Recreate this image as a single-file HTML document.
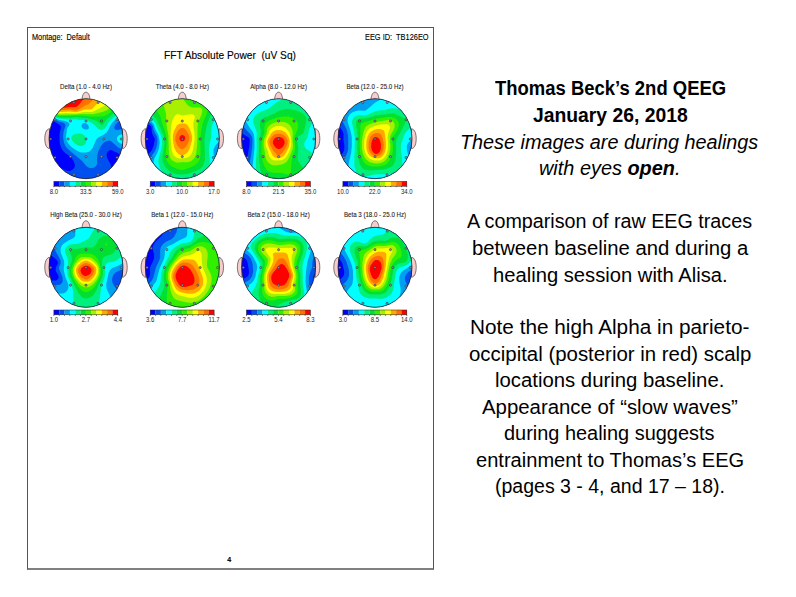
<!DOCTYPE html>
<html><head><meta charset="utf-8"><style>
html,body{margin:0;padding:0;background:#fff;width:796px;height:597px;overflow:hidden}
body{position:relative;font-family:"Liberation Sans",sans-serif;color:#000}
.t{position:absolute;white-space:pre;transform-origin:0 0}
#doc{position:absolute;left:27px;top:27px;width:405px;height:540px;border-left:1px solid #555;border-top:1px solid #555;border-right:1px solid #555;border-bottom:2px solid #808080}
.h{position:absolute;white-space:pre;transform-origin:0 0;color:#000;-webkit-text-stroke:0.12px #000}
svg{position:absolute;left:0;top:0}
svg text{font-family:"Liberation Sans",sans-serif}
</style></head><body>
<div id="doc"></div>
<div class="h" style="left:32.0px;top:33.39px;font-size:8.6px;line-height:8.6px;transform:scaleX(0.8512)">Montage:&nbsp; Default</div>
<div class="h" style="left:365.0px;top:33.39px;font-size:8.6px;line-height:8.6px;transform:scaleX(0.8604)">EEG ID:&nbsp; TB126EO</div>
<div class="h" style="left:164.0px;top:50.63px;font-size:10.2px;line-height:10.2px;transform:scaleX(0.9972)">FFT Absolute Power&nbsp; (uV Sq)</div>
<div class="h" style="left:227.3px;top:556.35px;font-size:7px;line-height:7px;font-weight:bold">4</div>
<svg width="796" height="597" viewBox="0 0 796 597"><g transform="translate(86.0,138.7)"><text x="0" y="-50.1" font-size="7" text-anchor="middle" transform="scale(0.88,1)" fill="#1a1a1a" stroke="#1a1a1a" stroke-width="0.1">Delta (1.0 - 4.0 Hz)</text><path d="M-36.5 -10 C-40.2 -9.5 -41.2 -4 -41.2 0 C-41.2 4 -40.2 9.5 -36.5 10 Z" fill="#f6cccc" stroke="#333" stroke-width="0.65"/><path d="M36.5 -10 C40.2 -9.5 41.2 -4 41.2 0 C41.2 4 40.2 9.5 36.5 10 Z" fill="#f6cccc" stroke="#333" stroke-width="0.65"/><path d="M-4 -39 C-3.8 -43 -2.5 -46.5 0 -46.5 C2.5 -46.5 3.8 -43 4 -39 Z" fill="#f6cccc" stroke="#333" stroke-width="0.65"/><clipPath id="c0"><ellipse rx="37.0" ry="40.0"/></clipPath><g clip-path="url(#c0)"><rect x="-38" y="-41" width="76" height="82" fill="#0000ff"/><path fill="#0050f0" d="M-37.1 -40.1 -37.1 -16.2 -33.6 -17.2 -31.7 -17.1 -27.6 -14.6 -25.2 -12.7 -25.1 -10.6 -26.4 -5.2 -26.4 2.4 -26.1 5.2 -25.2 8.1 -24.2 10.2 -22.8 12.4 -20.9 14.2 -16.2 17.6 -14.4 19.4 -12.4 22.2 -11.2 25.3 -11.2 27.8 -11.9 29.4 -13.2 30.9 -16.4 32.4 -19.2 32.3 -24.9 29.4 -28.4 28.4 -30.9 28.1 -34.8 28.1 -37.1 28.4 -37.1 40.1 21.1 40.1 23.1 37.8 24.4 35.3 25.1 33.3 25.4 30.8 25.2 28.4 24.4 25.4 21.4 19.9 20.6 17.4 20.8 14.8 21.8 12.9 23.6 11.6 24.8 11.4 26.2 11.8 31.8 14.4 37.1 17.8 37.1 -40.1Z"/><path fill="#00a0f0" d="M-37.1 -40.1 -37.1 -19.2 -31.7 -19.4 -27.2 -17.2 -22.6 -15.9 -20.9 -14.7 -20.6 -14.2 -20.6 -12.6 -22.4 -7.2 -22.9 -1.9 -22.2 3.6 -20.7 7.1 -19.6 8.8 -16.7 11.6 -3.8 22.2 -0.1 26.8 1.6 28.3 3.6 29.3 6.2 29.4 8.2 28.8 10.1 27.3 11.1 24.8 11.1 17.2 12.6 11.9 14.1 8.8 16.1 5.8 17.9 3.9 20.8 2.2 23.6 1.9 25.2 2.6 31.9 8.6 37.1 11.1 37.1 -10.9 34.4 -9.2 31.4 -8.6 29.3 -9.1 28.6 -9.7 28.3 -10.9 28.6 -12.7 29.3 -14.1 31.8 -16.4 33.1 -16.9 35.8 -16.9 37.1 -16.2 37.1 -40.1Z"/><path fill="#00ffff" d="M33.9 -3.9 32.6 -3.2 31.1 -1.4 30.9 0.6 31.6 2.2 32.9 3.8 34.6 4.8 37.1 5.4 37.1 -4.4ZM-37.1 -40.1 -37.1 -21.2 -32.4 -20.9 -26.6 -18.7 -21.1 -17.7 -18.2 -16.6 -16.7 -15.2 -16.6 -13.7 -18.6 -10.9 -19.1 -9.4 -19.9 -2.2 -19.7 0.6 -19.2 2.2 -17.2 5.6 -14.6 8.2 -9.1 12.1 -5.1 13.8 -0.4 13.9 2.4 13.2 4.1 12.2 6.6 9.2 9.8 1.8 10.8 0.1 12.9 -1.8 17.4 -3.8 20.6 -6.1 22.2 -8.6 24.8 -13.9 26.4 -16.2 28.6 -18.4 32.9 -21.1 37.1 -22.2 37.1 -40.1ZM-4.1 -14.2 -3.2 -15.1 -2.1 -15.6 -0.9 -15.6 0.4 -15.1 1.8 -13.9 2.8 -12.2 2.8 -10.1 1.6 -9.2 -0.8 -9.2 -2.8 -9.9 -3.9 -10.9 -4.4 -11.9 -4.4 -13.6Z"/><path fill="#00f080" d="M-14.1 -2.6 -14.6 -1.6 -14.6 0.2 -14.2 1.2 -11.7 4.4 -8.9 6.4 -6.4 7.2 -4.1 7.2 -1.8 6.2 -0.2 4.6 0.2 3.1 -0.1 -0.2 -1.1 -2.4 -2.9 -4.2 -5.7 -5.2 -8.7 -5.2 -10.9 -4.6 -12.9 -3.6ZM-37.1 -40.1 -37.1 -22.9 -34.1 -22.6 -27.1 -20.2 -17.6 -19.1 -9.7 -19.4 -6.9 -18.7 -0.9 -18.6 0.6 -18.2 3.2 -17.1 8.6 -13.6 11.8 -10.2 14.1 -8.9 16.4 -8.9 18.8 -10.2 20.2 -12.1 22.9 -16.6 25.6 -19.6 31.6 -24.1 37.1 -26.8 37.1 -40.1Z"/><path fill="#00e030" d="M-37.1 -40.1 -37.1 -24.6 -33.9 -23.9 -28.2 -21.7 -25.6 -21.2 -14.4 -21.1 -10.9 -21.7 -9.1 -21.7 -6.1 -21.1 1.4 -20.4 9.8 -18.1 12.1 -16.7 15.1 -13.9 15.9 -13.6 17.1 -14.2 19.4 -17.7 24.6 -22.6 31.3 -27.8 33.8 -29.4 37.1 -31.1 37.1 -40.1Z"/><path fill="#30f000" d="M-37.1 -26.2 -34.6 -25.6 -29.1 -23.1 -26.4 -22.6 -15.7 -22.6 -11.4 -23.1 -0.8 -22.7 5.8 -21.9 16.4 -22.1 19.4 -23.1 22.6 -24.9 31.1 -32.1 37.1 -36.1 37.1 -40.1 -37.1 -40.1Z"/><path fill="#a8f000" d="M-37.1 -28.1 -32.6 -26.2 -29.6 -24.6 -27.1 -23.9 -12.2 -24.1 -3.8 -24.6 6.8 -24.4 16.2 -26.6 20.8 -28.4 23.1 -30.1 30.3 -36.6 35.3 -40.1 -37.1 -40.1Z"/><path fill="#ffff00" d="M-37.1 -29.9 -34.6 -28.9 -29.1 -25.9 -26.4 -25.2 -19.7 -25.6 -9.4 -25.2 -2.1 -26.6 5.9 -26.8 8.4 -27.6 18.9 -33.2 27.4 -40.1 -37.1 -40.1Z"/><path fill="#ffa800" d="M-37.1 -32.1 -28.8 -27.6 -26.6 -26.9 -23.6 -26.8 -16.4 -27.2 -9.7 -26.4 -1.9 -28.9 4.6 -29.4 5.6 -29.8 7.1 -30.8 12.6 -36.8 18.2 -40.1 -37.1 -40.1Z"/><path fill="#ff7000" d="M-37.1 -34.4 -28.1 -29.4 -25.9 -28.8 -23.6 -28.6 -16.2 -29.1 -11.6 -28.2 -9.6 -28.2 -6.9 -29.4 -1.1 -32.9 2.8 -34.8 8.4 -40.1 -37.1 -40.1Z"/><path fill="#ff0000" d="M-37.1 -37.1 -29.4 -32.6 -26.2 -31.2 -22.1 -30.9 -17.7 -31.4 -11.2 -31.4 -9.6 -31.9 -8.1 -32.9 -5.9 -35.1 -4.1 -37.6 -1.4 -40.1 -37.1 -40.1Z"/></g><ellipse rx="37.0" ry="40.0" fill="none" stroke="#222" stroke-width="0.75"/><circle cx="-12.2" cy="-36.2" r="1.1" fill="#8c8cb4" stroke="#333" stroke-width="0.55"/><circle cx="12.2" cy="-36.2" r="1.1" fill="#8c8cb4" stroke="#333" stroke-width="0.55"/><circle cx="-31" cy="-19.0" r="1.1" fill="#8c8cb4" stroke="#333" stroke-width="0.55"/><circle cx="-15.5" cy="-17.7" r="1.1" fill="#8c8cb4" stroke="#333" stroke-width="0.55"/><circle cx="0" cy="-17.6" r="1.1" fill="#8c8cb4" stroke="#333" stroke-width="0.55"/><circle cx="15.5" cy="-17.7" r="1.1" fill="#8c8cb4" stroke="#333" stroke-width="0.55"/><circle cx="31" cy="-19.0" r="1.1" fill="#8c8cb4" stroke="#333" stroke-width="0.55"/><circle cx="-35.3" cy="0.3" r="1.1" fill="#8c8cb4" stroke="#333" stroke-width="0.55"/><circle cx="-17.9" cy="0.3" r="1.1" fill="#8c8cb4" stroke="#333" stroke-width="0.55"/><circle cx="0" cy="0.3" r="1.1" fill="#8c8cb4" stroke="#333" stroke-width="0.55"/><circle cx="17.9" cy="0.3" r="1.1" fill="#8c8cb4" stroke="#333" stroke-width="0.55"/><circle cx="35.3" cy="0.3" r="1.1" fill="#8c8cb4" stroke="#333" stroke-width="0.55"/><circle cx="-31" cy="18.8" r="1.1" fill="#8c8cb4" stroke="#333" stroke-width="0.55"/><circle cx="-15.5" cy="17.9" r="1.1" fill="#8c8cb4" stroke="#333" stroke-width="0.55"/><circle cx="0" cy="17.9" r="1.1" fill="#8c8cb4" stroke="#333" stroke-width="0.55"/><circle cx="15.5" cy="17.9" r="1.1" fill="#8c8cb4" stroke="#333" stroke-width="0.55"/><circle cx="31" cy="18.8" r="1.1" fill="#8c8cb4" stroke="#333" stroke-width="0.55"/><circle cx="-12.1" cy="36" r="1.1" fill="#8c8cb4" stroke="#333" stroke-width="0.55"/><circle cx="12.1" cy="36" r="1.1" fill="#8c8cb4" stroke="#333" stroke-width="0.55"/><rect x="-32.10" y="42.7" width="5.38" height="4.8" fill="#0000ff"/><rect x="-26.78" y="42.7" width="5.38" height="4.8" fill="#0050f0"/><rect x="-21.45" y="42.7" width="5.38" height="4.8" fill="#00a0f0"/><rect x="-16.12" y="42.7" width="5.38" height="4.8" fill="#00ffff"/><rect x="-10.80" y="42.7" width="5.38" height="4.8" fill="#00f080"/><rect x="-5.48" y="42.7" width="5.38" height="4.8" fill="#00e030"/><rect x="-0.15" y="42.7" width="5.38" height="4.8" fill="#30f000"/><rect x="5.17" y="42.7" width="5.38" height="4.8" fill="#a8f000"/><rect x="10.50" y="42.7" width="5.38" height="4.8" fill="#ffff00"/><rect x="15.83" y="42.7" width="5.38" height="4.8" fill="#ffa800"/><rect x="21.15" y="42.7" width="5.38" height="4.8" fill="#ff7000"/><rect x="26.47" y="42.7" width="5.38" height="4.8" fill="#ff0000"/><rect x="-32.1" y="42.7" width="63.9" height="4.8" fill="none" stroke="#222" stroke-width="0.5"/><rect x="-32.50" y="47.5" width="0.8" height="0.9" fill="#222"/><rect x="-27.18" y="47.5" width="0.8" height="0.9" fill="#222"/><rect x="-21.85" y="47.5" width="0.8" height="0.9" fill="#222"/><rect x="-16.52" y="47.5" width="0.8" height="0.9" fill="#222"/><rect x="-11.20" y="47.5" width="0.8" height="0.9" fill="#222"/><rect x="-5.88" y="47.5" width="0.8" height="0.9" fill="#222"/><rect x="-0.55" y="47.5" width="0.8" height="0.9" fill="#222"/><rect x="4.77" y="47.5" width="0.8" height="0.9" fill="#222"/><rect x="10.10" y="47.5" width="0.8" height="0.9" fill="#222"/><rect x="15.43" y="47.5" width="0.8" height="0.9" fill="#222"/><rect x="20.75" y="47.5" width="0.8" height="0.9" fill="#222"/><rect x="26.07" y="47.5" width="0.8" height="0.9" fill="#222"/><rect x="31.40" y="47.5" width="0.8" height="0.9" fill="#222"/><g font-size="6.8" fill="#222" text-anchor="middle"><text transform="translate(-32.10,55) scale(0.88,1)">8.0</text><text transform="translate(-0.15,55) scale(0.88,1)">33.5</text><text transform="translate(31.80,55) scale(0.88,1)">59.0</text></g></g><g transform="translate(182.3,138.7)"><text x="0" y="-50.1" font-size="7" text-anchor="middle" transform="scale(0.88,1)" fill="#1a1a1a" stroke="#1a1a1a" stroke-width="0.1">Theta (4.0 - 8.0 Hz)</text><path d="M-36.5 -10 C-40.2 -9.5 -41.2 -4 -41.2 0 C-41.2 4 -40.2 9.5 -36.5 10 Z" fill="#f6cccc" stroke="#333" stroke-width="0.65"/><path d="M36.5 -10 C40.2 -9.5 41.2 -4 41.2 0 C41.2 4 40.2 9.5 36.5 10 Z" fill="#f6cccc" stroke="#333" stroke-width="0.65"/><path d="M-4 -39 C-3.8 -43 -2.5 -46.5 0 -46.5 C2.5 -46.5 3.8 -43 4 -39 Z" fill="#f6cccc" stroke="#333" stroke-width="0.65"/><clipPath id="c1"><ellipse rx="37.0" ry="40.0"/></clipPath><g clip-path="url(#c1)"><rect x="-38" y="-41" width="76" height="82" fill="#0000ff"/><path fill="#0050f0" d="M-37.1 -40.1 -37.1 -15.2 -32.4 -13.4 -31.2 -12.2 -30.7 -10.7 -30.6 -7.6 -30.1 -5.1 -27.4 0.6 -28.6 6.6 -30.1 10.9 -31.4 12.9 -35.1 16.6 -37.1 19.6 -37.1 40.1 37.1 40.1 37.1 -40.1Z"/><path fill="#00a0f0" d="M-37.1 -40.1 -37.1 -18.2 -31.4 -15.1 -29.9 -13.4 -29.2 -11.9 -28.4 -7.9 -25.2 -1.6 -24.8 1.6 -25.1 5.4 -26.4 10.2 -27.9 13.4 -31.9 18.8 -33.1 21.4 -33.8 24.4 -33.9 28.4 -33.2 32.8 -31.9 36.8 -30.1 40.1 33.9 40.1 36.1 36.1 37.1 33.3 37.1 -40.1Z"/><path fill="#00ffff" d="M-37.1 -40.1 -37.1 -21.7 -33.6 -18.7 -30.4 -16.6 -28.4 -14.2 -27.2 -10.1 -23.9 -3.8 -22.8 1.8 -22.6 4.4 -23.4 9.6 -25.1 14.2 -27.9 19.8 -28.8 23.1 -28.8 26.1 -27.9 30.1 -25.8 35.1 -24.1 37.6 -21.8 40.1 25.2 40.1 27.9 37.4 29.3 35.6 30.8 32.8 31.6 30.4 32.4 26.1 32.4 21.1 31.1 14.2 31.3 10.6 32.9 7.1 37.1 2.1 37.1 -40.1Z"/><path fill="#00f080" d="M-37.1 -40.1 -37.1 -26.8 -32.4 -20.9 -28.8 -17.9 -26.8 -15.4 -25.1 -10.7 -22.1 -5.1 -20.7 -0.8 -20.2 2.9 -20.4 6.6 -21.1 10.4 -23.8 20.1 -23.9 24.3 -22.8 28.6 -20.4 32.8 -17.2 36.1 -15.9 37.1 -12.4 39.1 -9.7 40.1 8.6 40.1 17.9 37.1 22.1 34.6 24.2 32.4 25.6 30.4 27.1 26.1 27.4 23.8 27.4 19.6 26.8 14.9 26.6 10.1 27.3 5.2 29.1 -1.8 29.1 -7.6 29.4 -10.9 30.3 -14.7 31.6 -18.7 35.3 -25.4 37.1 -29.4 37.1 -40.1Z"/><path fill="#00e030" d="M-37.1 -40.1 -37.1 -35.8 -30.4 -24.2 -26.8 -20.2 -24.9 -17.7 -18.7 -3.1 -17.9 0.6 -17.9 4.2 -18.4 9.4 -19.9 17.9 -19.9 21.2 -18.9 25.3 -16.7 28.9 -14.2 31.4 -11.6 33.3 -7.4 35.1 -3.4 35.9 1.6 35.9 6.1 35.1 13.1 32.6 17.9 30.1 20.6 27.4 21.6 25.4 22.2 22.9 22.6 20.2 22.6 15.2 22.1 2.6 22.8 -4.2 24.6 -13.4 25.9 -17.4 29.1 -24.6 30.8 -29.2 31.8 -34.2 31.9 -40.1Z"/><path fill="#30f000" d="M-31.2 -40.1 -27.8 -31.6 -21.9 -22.4 -20.2 -15.4 -16.7 -5.1 -15.7 0.4 -15.7 5.9 -16.6 14.9 -16.6 18.1 -15.9 21.1 -14.6 23.8 -12.4 26.3 -9.9 28.1 -5.6 30.1 -1.2 31.3 0.6 31.3 4.6 30.1 12.1 26.8 15.6 23.8 16.9 21.6 17.9 18.2 18.2 15.6 18.1 -1.2 19.1 -9.2 20.1 -14.1 21.2 -17.4 24.2 -24.1 25.6 -29.6 25.4 -33.1 24.8 -35.4 23.8 -37.4 21.4 -40.1Z"/><path fill="#a8f000" d="M-19.9 -40.1 -19.2 -35.2 -16.2 -24.9 -16.2 -17.2 -13.9 -2.8 -13.4 14.6 -12.4 18.6 -11.4 20.2 -9.6 22.1 -6.1 23.8 -2.8 23.9 0.2 23.2 1.9 23.6 4.9 23.6 7.8 22.8 9.8 21.6 11.6 19.9 13.2 17.1 13.9 14.9 14.8 6.9 15.2 -3.6 15.2 -11.1 15.6 -14.4 16.2 -17.2 19.2 -24.1 19.9 -26.6 19.9 -28.9 18.6 -30.6 17.4 -31.1 9.9 -31.2 7.1 -32.2 4.6 -34.4 0.6 -40.1Z"/><path fill="#ffff00" d="M-4.9 -24.4 -6.7 -23.6 -8.6 -21.2 -10.1 -17.6 -10.9 -13.7 -11.7 -5.9 -11.7 -0.1 -10.6 11.6 -9.1 15.9 -8.4 16.9 -6.2 18.8 -3.2 19.8 3.1 19.6 6.6 18.1 8.6 16.1 9.9 13.6 10.6 11.6 11.9 4.4 12.4 -0.2 12.2 -5.2 11.1 -11.9 11.1 -16.4 12.2 -19.9 12.6 -22.2 11.6 -23.7 9.4 -24.4 6.6 -24.2 1.1 -23.1 -0.4 -23.2 -2.9 -24.2Z"/><path fill="#ffa800" d="M-1.4 -15.2 -3.9 -14.4 -5.4 -13.1 -8.1 -8.2 -8.9 -5.8 -9.4 -2.9 -9.4 1.9 -8.1 8.6 -6.2 12.9 -3.6 15.6 -1.4 16.6 0.2 16.8 1.4 16.4 3.9 14.9 5.6 13.1 6.9 10.8 9.4 2.9 9.8 0.9 9.8 -2.4 8.4 -7.6 6.2 -11.9 5.1 -13.6 3.8 -14.6 2.4 -15.1Z"/><path fill="#ff7000" d="M-0.8 -10.7 -2.2 -9.9 -3.9 -8.2 -5.6 -5.8 -6.9 -1.9 -6.9 1.6 -5.4 6.1 -3.9 8.4 -1.9 10.1 0.2 10.4 1.6 9.9 2.9 8.9 5.4 5.4 6.9 1.6 7.1 -1.4 6.2 -4.4 3.8 -8.4 1.8 -10.2 0.8 -10.7Z"/><path fill="#ff0000" d="M-0.4 -3.8 -1.2 -3.4 -2.6 -1.9 -2.9 0.2 -1.9 2.1 -1.1 2.6 0.1 2.8 1.4 2.2 2.4 1.2 2.8 0.4 2.8 -1.2 2.2 -2.4 1.4 -3.2 0.4 -3.8Z"/></g><ellipse rx="37.0" ry="40.0" fill="none" stroke="#222" stroke-width="0.75"/><circle cx="-12.2" cy="-36.2" r="1.1" fill="#8c8cb4" stroke="#333" stroke-width="0.55"/><circle cx="12.2" cy="-36.2" r="1.1" fill="#8c8cb4" stroke="#333" stroke-width="0.55"/><circle cx="-31" cy="-19.0" r="1.1" fill="#8c8cb4" stroke="#333" stroke-width="0.55"/><circle cx="-15.5" cy="-17.7" r="1.1" fill="#8c8cb4" stroke="#333" stroke-width="0.55"/><circle cx="0" cy="-17.6" r="1.1" fill="#8c8cb4" stroke="#333" stroke-width="0.55"/><circle cx="15.5" cy="-17.7" r="1.1" fill="#8c8cb4" stroke="#333" stroke-width="0.55"/><circle cx="31" cy="-19.0" r="1.1" fill="#8c8cb4" stroke="#333" stroke-width="0.55"/><circle cx="-35.3" cy="0.3" r="1.1" fill="#8c8cb4" stroke="#333" stroke-width="0.55"/><circle cx="-17.9" cy="0.3" r="1.1" fill="#8c8cb4" stroke="#333" stroke-width="0.55"/><circle cx="0" cy="0.3" r="1.1" fill="#8c8cb4" stroke="#333" stroke-width="0.55"/><circle cx="17.9" cy="0.3" r="1.1" fill="#8c8cb4" stroke="#333" stroke-width="0.55"/><circle cx="35.3" cy="0.3" r="1.1" fill="#8c8cb4" stroke="#333" stroke-width="0.55"/><circle cx="-31" cy="18.8" r="1.1" fill="#8c8cb4" stroke="#333" stroke-width="0.55"/><circle cx="-15.5" cy="17.9" r="1.1" fill="#8c8cb4" stroke="#333" stroke-width="0.55"/><circle cx="0" cy="17.9" r="1.1" fill="#8c8cb4" stroke="#333" stroke-width="0.55"/><circle cx="15.5" cy="17.9" r="1.1" fill="#8c8cb4" stroke="#333" stroke-width="0.55"/><circle cx="31" cy="18.8" r="1.1" fill="#8c8cb4" stroke="#333" stroke-width="0.55"/><circle cx="-12.1" cy="36" r="1.1" fill="#8c8cb4" stroke="#333" stroke-width="0.55"/><circle cx="12.1" cy="36" r="1.1" fill="#8c8cb4" stroke="#333" stroke-width="0.55"/><rect x="-32.10" y="42.7" width="5.38" height="4.8" fill="#0000ff"/><rect x="-26.78" y="42.7" width="5.38" height="4.8" fill="#0050f0"/><rect x="-21.45" y="42.7" width="5.38" height="4.8" fill="#00a0f0"/><rect x="-16.12" y="42.7" width="5.38" height="4.8" fill="#00ffff"/><rect x="-10.80" y="42.7" width="5.38" height="4.8" fill="#00f080"/><rect x="-5.48" y="42.7" width="5.38" height="4.8" fill="#00e030"/><rect x="-0.15" y="42.7" width="5.38" height="4.8" fill="#30f000"/><rect x="5.17" y="42.7" width="5.38" height="4.8" fill="#a8f000"/><rect x="10.50" y="42.7" width="5.38" height="4.8" fill="#ffff00"/><rect x="15.83" y="42.7" width="5.38" height="4.8" fill="#ffa800"/><rect x="21.15" y="42.7" width="5.38" height="4.8" fill="#ff7000"/><rect x="26.47" y="42.7" width="5.38" height="4.8" fill="#ff0000"/><rect x="-32.1" y="42.7" width="63.9" height="4.8" fill="none" stroke="#222" stroke-width="0.5"/><rect x="-32.50" y="47.5" width="0.8" height="0.9" fill="#222"/><rect x="-27.18" y="47.5" width="0.8" height="0.9" fill="#222"/><rect x="-21.85" y="47.5" width="0.8" height="0.9" fill="#222"/><rect x="-16.52" y="47.5" width="0.8" height="0.9" fill="#222"/><rect x="-11.20" y="47.5" width="0.8" height="0.9" fill="#222"/><rect x="-5.88" y="47.5" width="0.8" height="0.9" fill="#222"/><rect x="-0.55" y="47.5" width="0.8" height="0.9" fill="#222"/><rect x="4.77" y="47.5" width="0.8" height="0.9" fill="#222"/><rect x="10.10" y="47.5" width="0.8" height="0.9" fill="#222"/><rect x="15.43" y="47.5" width="0.8" height="0.9" fill="#222"/><rect x="20.75" y="47.5" width="0.8" height="0.9" fill="#222"/><rect x="26.07" y="47.5" width="0.8" height="0.9" fill="#222"/><rect x="31.40" y="47.5" width="0.8" height="0.9" fill="#222"/><g font-size="6.8" fill="#222" text-anchor="middle"><text transform="translate(-32.10,55) scale(0.88,1)">3.0</text><text transform="translate(-0.15,55) scale(0.88,1)">10.0</text><text transform="translate(31.80,55) scale(0.88,1)">17.0</text></g></g><g transform="translate(278.6,138.7)"><text x="0" y="-50.1" font-size="7" text-anchor="middle" transform="scale(0.88,1)" fill="#1a1a1a" stroke="#1a1a1a" stroke-width="0.1">Alpha (8.0 - 12.0 Hz)</text><path d="M-36.5 -10 C-40.2 -9.5 -41.2 -4 -41.2 0 C-41.2 4 -40.2 9.5 -36.5 10 Z" fill="#f6cccc" stroke="#333" stroke-width="0.65"/><path d="M36.5 -10 C40.2 -9.5 41.2 -4 41.2 0 C41.2 4 40.2 9.5 36.5 10 Z" fill="#f6cccc" stroke="#333" stroke-width="0.65"/><path d="M-4 -39 C-3.8 -43 -2.5 -46.5 0 -46.5 C2.5 -46.5 3.8 -43 4 -39 Z" fill="#f6cccc" stroke="#333" stroke-width="0.65"/><clipPath id="c2"><ellipse rx="37.0" ry="40.0"/></clipPath><g clip-path="url(#c2)"><rect x="-38" y="-41" width="76" height="82" fill="#0000ff"/><path fill="#0050f0" d="M-37.1 -40.1 -37.1 -5.9 -34.9 -4.1 -30.6 -1.6 -29.6 -0.6 -28.9 0.8 -29.2 6.9 -31.1 17.8 -34.4 30.3 -35.6 36.4 -35.9 40.1 37.1 40.1 37.1 -40.1Z"/><path fill="#00a0f0" d="M-35.9 -40.1 -37.1 -37.9 -37.1 -14.7 -32.1 -8.4 -27.8 -3.9 -26.6 -1.8 -26.1 0.8 -26.4 7.8 -27.9 18.6 -30.2 31.1 -30.9 40.1 37.1 40.1 37.1 -40.1Z"/><path fill="#00ffff" d="M-18.4 -40.1 -30.6 -28.9 -32.8 -25.4 -33.6 -21.4 -33.4 -19.6 -32.6 -17.1 -29.6 -11.9 -25.8 -6.6 -24.9 -4.6 -24.4 -1.9 -24.1 2.2 -24.1 9.2 -26.2 29.4 -26.2 37.3 -25.9 40.1 37.1 40.1 37.1 -40.1Z"/><path fill="#00f080" d="M-22.2 -24.1 -23.8 -22.6 -25.1 -20.4 -25.4 -19.2 -25.4 -16.7 -24.4 -13.2 -22.2 -7.9 -21.8 -5.1 -22.1 -0.9 -21.8 9.8 -22.6 20.4 -22.6 29.3 -21.9 35.4 -20.7 40.1 37.1 40.1 37.1 17.6 31.1 12.2 27.8 10.4 26.4 8.8 25.6 6.1 25.9 3.6 28.4 -0.1 29.4 -2.2 30.1 -7.4 30.9 -10.4 34.6 -17.1 35.8 -20.6 35.9 -25.2 35.6 -26.9 34.6 -29.4 32.6 -32.2 29.3 -34.9 26.9 -36.1 22.6 -37.6 14.2 -39.2 5.9 -39.2 2.1 -38.4 -0.9 -37.1 -4.2 -34.8 -9.9 -30.1 -13.1 -28.6 -16.7 -27.4 -20.2 -25.6Z"/><path fill="#00e030" d="M-16.7 -19.7 -18.1 -18.1 -18.7 -15.7 -18.7 -13.2 -17.9 -8.6 -17.9 -4.9 -19.4 2.4 -19.7 19.9 -19.1 26.6 -17.7 32.8 -16.4 36.4 -13.9 40.1 31.3 40.1 28.4 34.4 20.2 23.4 19.2 20.9 18.9 18.9 19.6 13.1 19.6 8.4 18.2 0.2 18.8 -0.9 19.8 -2.1 23.9 -4.8 25.1 -6.2 27.8 -17.9 27.8 -20.1 26.6 -22.7 25.4 -24.1 23.4 -25.6 18.2 -27.9 13.4 -29.2 7.9 -29.6 2.2 -28.4 -0.9 -27.1 -7.4 -23.6 -14.2 -21.2Z"/><path fill="#30f000" d="M4.4 -22.2 -1.9 -20.9 -8.7 -18.4 -11.6 -16.7 -13.4 -14.6 -14.2 -11.7 -14.2 -5.8 -16.4 -0.2 -17.2 4.2 -16.9 17.9 -16.2 21.9 -14.2 27.6 -12.1 31.1 -9.7 33.1 -5.9 34.1 2.9 34.3 10.9 36.3 11.9 35.9 12.4 35.1 12.4 28.9 13.1 22.2 13.9 18.1 15.9 12.8 16.4 10.1 16.4 5.4 15.8 1.9 15.8 -1.2 19.1 -9.6 19.4 -13.9 19.1 -15.6 18.2 -17.4 16.9 -19.1 15.1 -20.4 13.2 -21.2 10.1 -22.1Z"/><path fill="#a8f000" d="M6.4 -16.4 1.9 -16.9 -1.4 -16.6 -5.2 -15.6 -8.6 -13.7 -10.1 -12.2 -11.4 -9.7 -12.1 -5.1 -14.2 -0.2 -14.9 2.2 -14.9 8.1 -13.7 13.4 -13.4 17.2 -12.4 20.6 -11.1 22.9 -9.6 24.6 -6.6 26.3 -5.1 26.6 -1.9 26.6 3.9 25.6 6.4 24.4 8.1 22.9 9.6 20.8 11.9 15.9 13.8 11.1 14.4 6.8 13.9 0.8 14.1 -6.4 13.8 -8.2 12.8 -11.1 11.4 -13.2 9.4 -15.1Z"/><path fill="#ffff00" d="M3.2 -12.4 1.2 -12.7 -1.8 -12.6 -4.6 -11.7 -6.9 -10.4 -8.7 -8.4 -9.6 -6.8 -10.1 -4.9 -12.2 -0.4 -12.9 1.8 -12.9 6.8 -10.9 12.1 -9.7 16.8 -8.7 18.8 -7.1 20.6 -5.7 21.4 -4.1 21.9 2.9 21.6 5.9 20.1 7.2 18.8 9.2 15.8 10.9 12.4 12.2 8.2 12.6 6.4 12.6 1.8 11.9 -2.6 11.1 -5.2 9.8 -7.6 7.2 -10.4 6.1 -11.2Z"/><path fill="#ffa800" d="M-1.8 -8.6 -5.1 -7.4 -7.4 -5.2 -10.6 0.2 -11.2 2.6 -11.2 4.4 -10.1 8.4 -6.1 16.6 -4.4 18.2 -3.2 18.9 -1.4 19.4 0.8 19.4 2.1 19.1 3.9 18.1 6.1 15.9 7.6 13.8 9.6 9.9 10.4 7.6 11.1 2.9 10.8 0.6 9.9 -1.9 8.6 -4.2 6.6 -6.4 5.4 -7.2 2.6 -8.4Z"/><path fill="#ff7000" d="M-1.8 -4.9 -4.2 -4.1 -6.7 -1.9 -8.7 1.2 -9.1 2.2 -9.1 4.1 -8.1 7.1 -4.9 12.6 -1.8 16.1 0.2 16.8 1.8 15.9 3.9 13.9 7.1 9.6 8.8 5.6 9.1 1.9 7.6 -1.2 4.8 -3.9 1.8 -4.9Z"/><path fill="#ff0000" d="M-1.6 -1.6 -3.6 -0.6 -5.1 1.1 -5.7 3.1 -5.6 4.8 -4.6 6.9 -2.6 9.2 -0.6 10.2 1.1 10.2 3.6 8.8 5.1 6.8 5.9 4.6 5.9 2.4 4.9 0.4 3.1 -1.1 0.9 -1.8Z"/></g><ellipse rx="37.0" ry="40.0" fill="none" stroke="#222" stroke-width="0.75"/><circle cx="-12.2" cy="-36.2" r="1.1" fill="#8c8cb4" stroke="#333" stroke-width="0.55"/><circle cx="12.2" cy="-36.2" r="1.1" fill="#8c8cb4" stroke="#333" stroke-width="0.55"/><circle cx="-31" cy="-19.0" r="1.1" fill="#8c8cb4" stroke="#333" stroke-width="0.55"/><circle cx="-15.5" cy="-17.7" r="1.1" fill="#8c8cb4" stroke="#333" stroke-width="0.55"/><circle cx="0" cy="-17.6" r="1.1" fill="#8c8cb4" stroke="#333" stroke-width="0.55"/><circle cx="15.5" cy="-17.7" r="1.1" fill="#8c8cb4" stroke="#333" stroke-width="0.55"/><circle cx="31" cy="-19.0" r="1.1" fill="#8c8cb4" stroke="#333" stroke-width="0.55"/><circle cx="-35.3" cy="0.3" r="1.1" fill="#8c8cb4" stroke="#333" stroke-width="0.55"/><circle cx="-17.9" cy="0.3" r="1.1" fill="#8c8cb4" stroke="#333" stroke-width="0.55"/><circle cx="0" cy="0.3" r="1.1" fill="#8c8cb4" stroke="#333" stroke-width="0.55"/><circle cx="17.9" cy="0.3" r="1.1" fill="#8c8cb4" stroke="#333" stroke-width="0.55"/><circle cx="35.3" cy="0.3" r="1.1" fill="#8c8cb4" stroke="#333" stroke-width="0.55"/><circle cx="-31" cy="18.8" r="1.1" fill="#8c8cb4" stroke="#333" stroke-width="0.55"/><circle cx="-15.5" cy="17.9" r="1.1" fill="#8c8cb4" stroke="#333" stroke-width="0.55"/><circle cx="0" cy="17.9" r="1.1" fill="#8c8cb4" stroke="#333" stroke-width="0.55"/><circle cx="15.5" cy="17.9" r="1.1" fill="#8c8cb4" stroke="#333" stroke-width="0.55"/><circle cx="31" cy="18.8" r="1.1" fill="#8c8cb4" stroke="#333" stroke-width="0.55"/><circle cx="-12.1" cy="36" r="1.1" fill="#8c8cb4" stroke="#333" stroke-width="0.55"/><circle cx="12.1" cy="36" r="1.1" fill="#8c8cb4" stroke="#333" stroke-width="0.55"/><rect x="-32.10" y="42.7" width="5.38" height="4.8" fill="#0000ff"/><rect x="-26.78" y="42.7" width="5.38" height="4.8" fill="#0050f0"/><rect x="-21.45" y="42.7" width="5.38" height="4.8" fill="#00a0f0"/><rect x="-16.12" y="42.7" width="5.38" height="4.8" fill="#00ffff"/><rect x="-10.80" y="42.7" width="5.38" height="4.8" fill="#00f080"/><rect x="-5.48" y="42.7" width="5.38" height="4.8" fill="#00e030"/><rect x="-0.15" y="42.7" width="5.38" height="4.8" fill="#30f000"/><rect x="5.17" y="42.7" width="5.38" height="4.8" fill="#a8f000"/><rect x="10.50" y="42.7" width="5.38" height="4.8" fill="#ffff00"/><rect x="15.83" y="42.7" width="5.38" height="4.8" fill="#ffa800"/><rect x="21.15" y="42.7" width="5.38" height="4.8" fill="#ff7000"/><rect x="26.47" y="42.7" width="5.38" height="4.8" fill="#ff0000"/><rect x="-32.1" y="42.7" width="63.9" height="4.8" fill="none" stroke="#222" stroke-width="0.5"/><rect x="-32.50" y="47.5" width="0.8" height="0.9" fill="#222"/><rect x="-27.18" y="47.5" width="0.8" height="0.9" fill="#222"/><rect x="-21.85" y="47.5" width="0.8" height="0.9" fill="#222"/><rect x="-16.52" y="47.5" width="0.8" height="0.9" fill="#222"/><rect x="-11.20" y="47.5" width="0.8" height="0.9" fill="#222"/><rect x="-5.88" y="47.5" width="0.8" height="0.9" fill="#222"/><rect x="-0.55" y="47.5" width="0.8" height="0.9" fill="#222"/><rect x="4.77" y="47.5" width="0.8" height="0.9" fill="#222"/><rect x="10.10" y="47.5" width="0.8" height="0.9" fill="#222"/><rect x="15.43" y="47.5" width="0.8" height="0.9" fill="#222"/><rect x="20.75" y="47.5" width="0.8" height="0.9" fill="#222"/><rect x="26.07" y="47.5" width="0.8" height="0.9" fill="#222"/><rect x="31.40" y="47.5" width="0.8" height="0.9" fill="#222"/><g font-size="6.8" fill="#222" text-anchor="middle"><text transform="translate(-32.10,55) scale(0.88,1)">8.0</text><text transform="translate(-0.15,55) scale(0.88,1)">21.5</text><text transform="translate(31.80,55) scale(0.88,1)">35.0</text></g></g><g transform="translate(375.0,138.7)"><text x="0" y="-50.1" font-size="7" text-anchor="middle" transform="scale(0.88,1)" fill="#1a1a1a" stroke="#1a1a1a" stroke-width="0.1">Beta (12.0 - 25.0 Hz)</text><path d="M-36.5 -10 C-40.2 -9.5 -41.2 -4 -41.2 0 C-41.2 4 -40.2 9.5 -36.5 10 Z" fill="#f6cccc" stroke="#333" stroke-width="0.65"/><path d="M36.5 -10 C40.2 -9.5 41.2 -4 41.2 0 C41.2 4 40.2 9.5 36.5 10 Z" fill="#f6cccc" stroke="#333" stroke-width="0.65"/><path d="M-4 -39 C-3.8 -43 -2.5 -46.5 0 -46.5 C2.5 -46.5 3.8 -43 4 -39 Z" fill="#f6cccc" stroke="#333" stroke-width="0.65"/><clipPath id="c3"><ellipse rx="37.0" ry="40.0"/></clipPath><g clip-path="url(#c3)"><rect x="-38" y="-41" width="76" height="82" fill="#0000ff"/><path fill="#0050f0" d="M-34.1 -40.1 -37.1 -34.9 -37.1 -14.7 -33.1 -8.7 -31.9 -6.4 -31.4 -4.1 -31.6 1.2 -30.7 6.6 -30.7 10.4 -31.2 12.4 -32.1 14.1 -35.2 18.9 -37.1 22.9 -37.1 40.1 37.1 40.1 37.1 -40.1Z"/><path fill="#00a0f0" d="M-17.6 -40.1 -21.4 -35.8 -27.2 -32.1 -30.2 -29.2 -32.2 -25.9 -33.1 -23.1 -33.1 -19.4 -32.4 -17.1 -28.6 -9.6 -27.8 -7.2 -27.1 -3.6 -26.8 1.6 -26.8 9.6 -27.1 11.8 -28.1 15.1 -30.1 18.9 -31.4 22.6 -32.6 28.4 -32.8 33.8 -32.2 37.6 -31.6 40.1 37.1 40.1 37.1 -40.1Z"/><path fill="#00ffff" d="M37.1 -39.4 34.9 -40.1 7.8 -40.1 2.8 -37.6 -0.4 -35.6 -6.7 -30.1 -9.4 -28.2 -10.6 -27.9 -16.1 -28.2 -19.1 -27.8 -22.9 -26.2 -25.4 -24.2 -27.2 -20.7 -27.4 -17.7 -26.9 -15.2 -24.6 -8.2 -23.6 -3.6 -23.2 -0.6 -23.2 7.8 -23.9 14.4 -26.4 25.4 -26.6 30.8 -26.2 33.1 -25.2 36.4 -23.1 40.1 25.8 40.1 28.9 38.1 31.3 35.6 33.6 31.1 34.4 27.3 34.4 22.2 33.8 18.4 31.9 11.9 31.8 7.4 32.3 5.8 33.3 4.1 37.1 0.2Z"/><path fill="#00f080" d="M35.3 -26.4 32.8 -27.9 29.9 -28.8 20.9 -30.2 16.8 -30.4 13.9 -29.9 9.9 -28.6 4.2 -28.2 1.6 -27.8 -1.4 -26.8 -5.7 -24.6 -9.1 -23.4 -11.4 -23.2 -16.2 -23.6 -17.9 -23.2 -20.2 -22.1 -21.6 -20.7 -22.8 -18.1 -22.9 -15.1 -21.1 -7.4 -20.1 -0.9 -20.7 22.6 -20.6 27.3 -19.2 32.4 -17.9 34.8 -16.7 36.1 -13.7 37.9 -11.1 38.3 -8.7 37.9 -0.6 35.8 8.9 35.6 15.8 35.1 20.8 33.9 23.2 32.6 25.1 30.8 26.2 28.8 27.1 25.4 27.1 20.2 25.9 12.2 25.9 6.9 26.4 4.2 30.1 -5.4 35.3 -11.1 37.1 -13.9 37.1 -24.2Z"/><path fill="#00e030" d="M29.4 -20.2 20.8 -24.6 17.9 -25.2 15.6 -25.2 10.4 -24.1 1.9 -23.6 -8.1 -20.4 -15.7 -19.9 -16.9 -19.4 -18.1 -18.4 -18.9 -16.6 -19.1 -13.6 -17.7 -6.8 -17.4 -3.4 -17.4 2.2 -17.7 5.2 -17.7 11.1 -17.4 14.8 -16.2 21.9 -15.2 25.4 -13.9 28.1 -12.1 30.1 -9.9 31.3 -5.9 31.8 7.2 31.1 10.8 30.4 13.8 29.4 16.6 27.9 18.4 26.3 20.1 22.8 20.9 17.9 21.2 14.4 21.1 3.6 21.4 1.1 30.1 -15.2 30.6 -18.1 30.1 -19.6Z"/><path fill="#30f000" d="M19.2 -20.9 16.6 -21.7 13.2 -21.7 2.1 -20.2 -12.2 -15.9 -13.9 -14.7 -14.6 -12.6 -14.6 -5.6 -15.4 5.8 -15.1 12.2 -14.1 16.9 -12.7 20.8 -10.7 24.1 -8.1 26.3 -5.4 27.3 -1.9 27.8 4.1 27.8 6.4 27.4 8.8 26.8 11.6 25.3 13.4 23.6 14.6 21.9 16.9 16.2 17.9 11.6 17.9 6.4 17.2 2.1 17.2 -0.1 18.2 -2.4 21.6 -7.2 23.2 -10.7 23.9 -13.4 23.8 -15.9 22.9 -17.7 21.2 -19.6Z"/><path fill="#a8f000" d="M16.6 -18.2 14.8 -18.7 13.4 -18.7 0.4 -16.6 -6.9 -13.6 -8.4 -12.6 -9.9 -10.9 -11.2 -7.8 -12.4 -2.6 -13.1 3.1 -13.1 9.6 -12.1 14.8 -11.1 17.4 -9.4 20.2 -6.4 22.9 -4.1 23.9 -0.8 24.6 2.8 24.8 5.2 24.4 7.4 23.8 9.4 22.6 11.4 20.6 12.4 19.1 14.2 15.1 15.2 11.1 15.4 6.9 14.9 3.2 15.1 -1.9 15.9 -4.2 19.1 -9.9 19.6 -11.6 19.6 -14.4 19.2 -15.4 18.4 -16.7Z"/><path fill="#ffff00" d="M13.4 -14.1 11.8 -14.4 5.9 -14.1 3.1 -13.6 -1.4 -12.2 -5.6 -10.1 -7.2 -8.4 -8.4 -6.6 -9.9 -2.6 -10.7 1.6 -10.9 9.2 -10.2 12.8 -8.7 16.4 -7.7 17.9 -5.1 20.2 -0.8 21.8 4.8 21.8 7.9 20.2 9.8 18.4 10.8 16.9 12.1 14.1 13.1 9.9 13.1 4.8 12.6 -0.1 12.8 -2.9 13.6 -6.8 14.9 -10.4 14.9 -12.4Z"/><path fill="#ffa800" d="M5.4 -9.7 2.8 -9.7 0.2 -9.2 -3.9 -7.2 -5.9 -5.1 -7.4 -2.2 -8.6 2.2 -8.7 8.9 -8.2 11.6 -7.1 14.6 -6.1 16.1 -4.1 17.9 -1.4 19.1 1.1 19.6 3.2 19.6 4.6 19.2 6.2 18.4 7.9 16.9 9.6 14.2 10.9 9.6 10.9 4.1 9.6 -6.2 9.1 -7.6 8.1 -8.7Z"/><path fill="#ff7000" d="M0.4 -5.8 -2.6 -4.2 -4.2 -2.4 -5.2 -0.6 -6.4 3.8 -6.4 9.2 -5.2 13.1 -4.4 14.4 -2.9 15.9 -0.4 17.1 2.8 17.4 5.1 16.4 7.1 14.1 8.6 9.8 8.8 5.6 7.6 -0.8 6.1 -3.9 5.1 -4.9 3.2 -5.8Z"/><path fill="#ff0000" d="M0.2 -1.6 -1.1 -0.9 -1.9 -0.1 -3.1 2.1 -3.8 5.1 -3.8 9.1 -3.1 11.6 -1.9 13.6 -0.4 14.9 0.8 15.4 1.6 15.4 3.6 14.4 5.1 12.4 5.9 9.6 5.9 5.6 5.1 2.1 3.9 -0.1 2.2 -1.4Z"/></g><ellipse rx="37.0" ry="40.0" fill="none" stroke="#222" stroke-width="0.75"/><circle cx="-12.2" cy="-36.2" r="1.1" fill="#8c8cb4" stroke="#333" stroke-width="0.55"/><circle cx="12.2" cy="-36.2" r="1.1" fill="#8c8cb4" stroke="#333" stroke-width="0.55"/><circle cx="-31" cy="-19.0" r="1.1" fill="#8c8cb4" stroke="#333" stroke-width="0.55"/><circle cx="-15.5" cy="-17.7" r="1.1" fill="#8c8cb4" stroke="#333" stroke-width="0.55"/><circle cx="0" cy="-17.6" r="1.1" fill="#8c8cb4" stroke="#333" stroke-width="0.55"/><circle cx="15.5" cy="-17.7" r="1.1" fill="#8c8cb4" stroke="#333" stroke-width="0.55"/><circle cx="31" cy="-19.0" r="1.1" fill="#8c8cb4" stroke="#333" stroke-width="0.55"/><circle cx="-35.3" cy="0.3" r="1.1" fill="#8c8cb4" stroke="#333" stroke-width="0.55"/><circle cx="-17.9" cy="0.3" r="1.1" fill="#8c8cb4" stroke="#333" stroke-width="0.55"/><circle cx="0" cy="0.3" r="1.1" fill="#8c8cb4" stroke="#333" stroke-width="0.55"/><circle cx="17.9" cy="0.3" r="1.1" fill="#8c8cb4" stroke="#333" stroke-width="0.55"/><circle cx="35.3" cy="0.3" r="1.1" fill="#8c8cb4" stroke="#333" stroke-width="0.55"/><circle cx="-31" cy="18.8" r="1.1" fill="#8c8cb4" stroke="#333" stroke-width="0.55"/><circle cx="-15.5" cy="17.9" r="1.1" fill="#8c8cb4" stroke="#333" stroke-width="0.55"/><circle cx="0" cy="17.9" r="1.1" fill="#8c8cb4" stroke="#333" stroke-width="0.55"/><circle cx="15.5" cy="17.9" r="1.1" fill="#8c8cb4" stroke="#333" stroke-width="0.55"/><circle cx="31" cy="18.8" r="1.1" fill="#8c8cb4" stroke="#333" stroke-width="0.55"/><circle cx="-12.1" cy="36" r="1.1" fill="#8c8cb4" stroke="#333" stroke-width="0.55"/><circle cx="12.1" cy="36" r="1.1" fill="#8c8cb4" stroke="#333" stroke-width="0.55"/><rect x="-32.10" y="42.7" width="5.38" height="4.8" fill="#0000ff"/><rect x="-26.78" y="42.7" width="5.38" height="4.8" fill="#0050f0"/><rect x="-21.45" y="42.7" width="5.38" height="4.8" fill="#00a0f0"/><rect x="-16.12" y="42.7" width="5.38" height="4.8" fill="#00ffff"/><rect x="-10.80" y="42.7" width="5.38" height="4.8" fill="#00f080"/><rect x="-5.48" y="42.7" width="5.38" height="4.8" fill="#00e030"/><rect x="-0.15" y="42.7" width="5.38" height="4.8" fill="#30f000"/><rect x="5.17" y="42.7" width="5.38" height="4.8" fill="#a8f000"/><rect x="10.50" y="42.7" width="5.38" height="4.8" fill="#ffff00"/><rect x="15.83" y="42.7" width="5.38" height="4.8" fill="#ffa800"/><rect x="21.15" y="42.7" width="5.38" height="4.8" fill="#ff7000"/><rect x="26.47" y="42.7" width="5.38" height="4.8" fill="#ff0000"/><rect x="-32.1" y="42.7" width="63.9" height="4.8" fill="none" stroke="#222" stroke-width="0.5"/><rect x="-32.50" y="47.5" width="0.8" height="0.9" fill="#222"/><rect x="-27.18" y="47.5" width="0.8" height="0.9" fill="#222"/><rect x="-21.85" y="47.5" width="0.8" height="0.9" fill="#222"/><rect x="-16.52" y="47.5" width="0.8" height="0.9" fill="#222"/><rect x="-11.20" y="47.5" width="0.8" height="0.9" fill="#222"/><rect x="-5.88" y="47.5" width="0.8" height="0.9" fill="#222"/><rect x="-0.55" y="47.5" width="0.8" height="0.9" fill="#222"/><rect x="4.77" y="47.5" width="0.8" height="0.9" fill="#222"/><rect x="10.10" y="47.5" width="0.8" height="0.9" fill="#222"/><rect x="15.43" y="47.5" width="0.8" height="0.9" fill="#222"/><rect x="20.75" y="47.5" width="0.8" height="0.9" fill="#222"/><rect x="26.07" y="47.5" width="0.8" height="0.9" fill="#222"/><rect x="31.40" y="47.5" width="0.8" height="0.9" fill="#222"/><g font-size="6.8" fill="#222" text-anchor="middle"><text transform="translate(-32.10,55) scale(0.88,1)">10.0</text><text transform="translate(-0.15,55) scale(0.88,1)">22.0</text><text transform="translate(31.80,55) scale(0.88,1)">34.0</text></g></g><g transform="translate(86.0,267.3)"><text x="0" y="-50.1" font-size="7" text-anchor="middle" transform="scale(0.88,1)" fill="#1a1a1a" stroke="#1a1a1a" stroke-width="0.1">High Beta (25.0 - 30.0 Hz)</text><path d="M-36.5 -10 C-40.2 -9.5 -41.2 -4 -41.2 0 C-41.2 4 -40.2 9.5 -36.5 10 Z" fill="#f6cccc" stroke="#333" stroke-width="0.65"/><path d="M36.5 -10 C40.2 -9.5 41.2 -4 41.2 0 C41.2 4 40.2 9.5 36.5 10 Z" fill="#f6cccc" stroke="#333" stroke-width="0.65"/><path d="M-4 -39 C-3.8 -43 -2.5 -46.5 0 -46.5 C2.5 -46.5 3.8 -43 4 -39 Z" fill="#f6cccc" stroke="#333" stroke-width="0.65"/><clipPath id="c4"><ellipse rx="37.0" ry="40.0"/></clipPath><g clip-path="url(#c4)"><rect x="-38" y="-41" width="76" height="82" fill="#0000ff"/><path fill="#0050f0" d="M-37.1 -40.1 -37.1 -14.4 -34.1 -11.2 -29.7 -7.8 -28.6 -6.2 -28.2 -5.4 -28.2 -3.6 -30.1 -0.1 -30.4 2.8 -30.1 3.9 -27.9 7.8 -27.4 9.4 -27.4 10.4 -27.9 11.8 -29.7 13.1 -34.1 13.2 -37.1 12.8 -37.1 40.1 37.1 40.1 37.1 13.6 36.8 13.1 36.8 12.2 37.1 11.9 37.1 -40.1Z"/><path fill="#00a0f0" d="M-21.8 -40.1 -22.1 -35.8 -23.1 -32.8 -24.1 -31.4 -29.4 -26.2 -30.6 -24.2 -31.4 -21.2 -31.4 -19.4 -30.6 -16.4 -26.8 -9.6 -25.4 -6.4 -25.4 -3.6 -26.9 -0.2 -26.9 1.6 -23.8 9.2 -23.4 10.9 -23.4 14.1 -24.1 15.8 -25.6 17.1 -27.6 17.6 -32.1 17.6 -37.1 19.1 -37.1 40.1 36.8 40.1 35.6 34.6 33.3 27.8 30.1 21.2 27.6 17.6 26.6 15.6 26.1 13.6 26.1 11.1 27.3 7.6 29.4 5.2 32.4 3.6 37.1 1.9 37.1 -40.1Z"/><path fill="#00ffff" d="M-9.7 -40.1 -10.7 -37.6 -10.7 -32.1 -11.4 -30.4 -12.9 -29.1 -17.6 -26.8 -22.2 -23.9 -24.2 -21.7 -25.4 -18.7 -25.4 -15.9 -24.9 -13.7 -21.9 -6.2 -21.8 -2.2 -22.2 0.4 -22.1 3.8 -20.6 9.6 -17.7 17.2 -17.6 19.9 -17.9 21.4 -18.9 23.4 -20.6 25.1 -22.2 25.9 -23.8 26.3 -29.2 26.3 -31.2 26.6 -34.2 27.9 -37.1 29.9 -37.1 40.1 24.4 40.1 24.8 37.6 24.6 30.9 23.8 27.9 21.2 22.9 20.6 20.9 20.2 18.2 20.6 15.1 22.6 5.6 24.1 2.6 26.4 0.8 32.1 -1.6 37.1 -4.4 37.1 -40.1Z"/><path fill="#00f080" d="M36.4 -40.1 9.9 -40.1 6.8 -36.1 3.4 -29.9 1.6 -28.1 -4.1 -25.1 -7.9 -23.6 -9.6 -23.2 -14.7 -23.1 -16.6 -22.6 -18.6 -21.4 -20.4 -19.2 -21.1 -16.7 -20.9 -14.6 -18.7 -9.4 -17.9 -6.1 -18.2 -0.8 -18.9 2.8 -18.7 6.4 -17.7 10.1 -14.6 16.6 -13.9 18.6 -12.9 24.4 -12.6 35.4 -11.9 37.8 -10.2 40.1 6.8 40.1 9.1 38.6 11.1 36.6 12.2 34.9 13.4 32.4 14.2 29.3 14.9 21.1 15.6 17.6 17.6 13.1 18.6 9.8 19.1 6.8 18.9 -0.4 19.8 -2.6 20.8 -3.8 22.4 -4.8 27.6 -5.6 30.6 -6.8 34.4 -10.1 37.1 -13.6 37.1 -39.4Z"/><path fill="#00e030" d="M25.4 -30.1 19.8 -31.4 17.4 -31.2 15.4 -30.4 14.1 -29.4 12.4 -27.4 9.6 -22.4 8.1 -20.9 6.2 -20.1 3.9 -19.9 -0.4 -20.2 -7.4 -18.6 -14.4 -18.6 -16.1 -17.7 -16.2 -15.6 -14.4 -10.6 -14.2 -6.9 -15.6 -2.9 -16.6 1.6 -16.7 5.1 -16.2 7.9 -15.2 10.8 -7.6 25.9 -4.6 29.4 -2.6 30.6 -0.9 31.1 1.6 31.1 2.9 30.8 6.1 28.9 8.1 26.8 10.8 22.1 12.9 16.8 15.2 12.2 16.4 8.8 16.8 6.8 16.8 3.1 16.2 0.4 16.1 -5.9 16.6 -8.4 17.2 -9.6 18.8 -10.9 21.2 -11.9 24.1 -12.6 26.8 -13.9 28.1 -15.1 29.6 -17.4 30.6 -20.9 30.6 -23.9 30.3 -25.2 29.1 -27.4 27.6 -28.9Z"/><path fill="#30f000" d="M-4.4 -13.7 -7.4 -12.7 -8.7 -11.7 -9.9 -10.2 -14.4 -0.2 -14.9 2.4 -14.9 5.1 -14.2 8.2 -12.9 11.4 -10.1 16.2 -7.4 19.9 -4.9 22.4 -3.2 23.6 -1.1 24.6 0.9 24.8 2.8 24.3 5.9 22.2 8.4 19.6 10.9 15.9 14.2 9.2 14.9 6.4 14.9 1.9 14.1 -2.6 12.9 -5.9 11.6 -8.6 9.2 -11.4 6.8 -12.9 4.4 -13.6 -1.8 -13.9ZM20.1 -23.9 19.4 -23.4 19.2 -22.6 19.9 -21.7 20.4 -21.7 21.1 -22.4 21.1 -23.2 20.8 -23.7Z"/><path fill="#a8f000" d="M-3.4 -10.4 -5.4 -9.7 -7.1 -8.6 -11.1 -3.6 -12.9 0.4 -13.2 1.9 -13.2 5.1 -12.2 8.8 -10.9 11.4 -7.2 16.4 -5.1 18.2 -3.2 19.2 -0.8 19.9 1.4 19.9 3.4 19.4 6.2 17.8 8.4 15.6 10.6 12.6 12.2 9.4 13.1 6.9 13.4 5.1 13.2 0.8 12.6 -1.6 11.1 -4.4 6.9 -8.6 4.6 -9.9 2.8 -10.4Z"/><path fill="#ffff00" d="M-1.2 -8.6 -4.6 -7.4 -8.7 -3.8 -11.2 0.2 -11.7 2.4 -11.7 3.9 -11.1 7.1 -9.6 10.2 -6.4 14.2 -4.4 15.8 -2.9 16.4 -1.2 16.8 1.6 16.8 3.6 16.2 5.4 15.2 8.9 11.6 10.8 8.4 11.6 6.1 11.9 4.4 11.9 1.6 11.4 -0.2 10.1 -2.6 6.1 -6.2 4.4 -7.4 1.9 -8.4Z"/><path fill="#ffa800" d="M-0.2 -6.8 -1.8 -6.4 -4.4 -5.1 -8.1 -1.8 -9.7 0.9 -10.1 3.8 -9.2 6.9 -8.2 8.9 -5.7 12.1 -3.8 13.6 -2.1 14.2 1.4 14.4 3.1 13.9 4.8 12.9 7.9 9.6 9.8 6.1 10.4 2.1 9.9 0.4 9.1 -0.9 6.4 -3.6 2.1 -6.2Z"/><path fill="#ff7000" d="M0.1 -4.2 -2.2 -3.8 -4.6 -2.4 -6.7 -0.2 -7.9 2.1 -7.7 5.2 -5.9 8.8 -3.9 10.8 -0.9 12.2 0.8 12.2 1.8 11.9 3.9 10.6 6.9 7.2 8.2 3.9 8.2 2.1 7.1 -0.2 3.8 -3.1 1.4 -4.1Z"/><path fill="#ff0000" d="M1.2 -1.6 -0.8 -1.6 -3.1 -0.6 -4.6 0.9 -5.4 2.9 -5.2 4.8 -4.4 6.4 -2.9 7.9 -1.2 8.8 0.1 8.8 3.1 7.4 4.6 5.9 5.4 4.1 5.4 2.1 4.8 0.8 3.2 -0.8Z"/></g><ellipse rx="37.0" ry="40.0" fill="none" stroke="#222" stroke-width="0.75"/><circle cx="-12.2" cy="-36.2" r="1.1" fill="#8c8cb4" stroke="#333" stroke-width="0.55"/><circle cx="12.2" cy="-36.2" r="1.1" fill="#8c8cb4" stroke="#333" stroke-width="0.55"/><circle cx="-31" cy="-19.0" r="1.1" fill="#8c8cb4" stroke="#333" stroke-width="0.55"/><circle cx="-15.5" cy="-17.7" r="1.1" fill="#8c8cb4" stroke="#333" stroke-width="0.55"/><circle cx="0" cy="-17.6" r="1.1" fill="#8c8cb4" stroke="#333" stroke-width="0.55"/><circle cx="15.5" cy="-17.7" r="1.1" fill="#8c8cb4" stroke="#333" stroke-width="0.55"/><circle cx="31" cy="-19.0" r="1.1" fill="#8c8cb4" stroke="#333" stroke-width="0.55"/><circle cx="-35.3" cy="0.3" r="1.1" fill="#8c8cb4" stroke="#333" stroke-width="0.55"/><circle cx="-17.9" cy="0.3" r="1.1" fill="#8c8cb4" stroke="#333" stroke-width="0.55"/><circle cx="0" cy="0.3" r="1.1" fill="#8c8cb4" stroke="#333" stroke-width="0.55"/><circle cx="17.9" cy="0.3" r="1.1" fill="#8c8cb4" stroke="#333" stroke-width="0.55"/><circle cx="35.3" cy="0.3" r="1.1" fill="#8c8cb4" stroke="#333" stroke-width="0.55"/><circle cx="-31" cy="18.8" r="1.1" fill="#8c8cb4" stroke="#333" stroke-width="0.55"/><circle cx="-15.5" cy="17.9" r="1.1" fill="#8c8cb4" stroke="#333" stroke-width="0.55"/><circle cx="0" cy="17.9" r="1.1" fill="#8c8cb4" stroke="#333" stroke-width="0.55"/><circle cx="15.5" cy="17.9" r="1.1" fill="#8c8cb4" stroke="#333" stroke-width="0.55"/><circle cx="31" cy="18.8" r="1.1" fill="#8c8cb4" stroke="#333" stroke-width="0.55"/><circle cx="-12.1" cy="36" r="1.1" fill="#8c8cb4" stroke="#333" stroke-width="0.55"/><circle cx="12.1" cy="36" r="1.1" fill="#8c8cb4" stroke="#333" stroke-width="0.55"/><rect x="-32.10" y="42.7" width="5.38" height="4.8" fill="#0000ff"/><rect x="-26.78" y="42.7" width="5.38" height="4.8" fill="#0050f0"/><rect x="-21.45" y="42.7" width="5.38" height="4.8" fill="#00a0f0"/><rect x="-16.12" y="42.7" width="5.38" height="4.8" fill="#00ffff"/><rect x="-10.80" y="42.7" width="5.38" height="4.8" fill="#00f080"/><rect x="-5.48" y="42.7" width="5.38" height="4.8" fill="#00e030"/><rect x="-0.15" y="42.7" width="5.38" height="4.8" fill="#30f000"/><rect x="5.17" y="42.7" width="5.38" height="4.8" fill="#a8f000"/><rect x="10.50" y="42.7" width="5.38" height="4.8" fill="#ffff00"/><rect x="15.83" y="42.7" width="5.38" height="4.8" fill="#ffa800"/><rect x="21.15" y="42.7" width="5.38" height="4.8" fill="#ff7000"/><rect x="26.47" y="42.7" width="5.38" height="4.8" fill="#ff0000"/><rect x="-32.1" y="42.7" width="63.9" height="4.8" fill="none" stroke="#222" stroke-width="0.5"/><rect x="-32.50" y="47.5" width="0.8" height="0.9" fill="#222"/><rect x="-27.18" y="47.5" width="0.8" height="0.9" fill="#222"/><rect x="-21.85" y="47.5" width="0.8" height="0.9" fill="#222"/><rect x="-16.52" y="47.5" width="0.8" height="0.9" fill="#222"/><rect x="-11.20" y="47.5" width="0.8" height="0.9" fill="#222"/><rect x="-5.88" y="47.5" width="0.8" height="0.9" fill="#222"/><rect x="-0.55" y="47.5" width="0.8" height="0.9" fill="#222"/><rect x="4.77" y="47.5" width="0.8" height="0.9" fill="#222"/><rect x="10.10" y="47.5" width="0.8" height="0.9" fill="#222"/><rect x="15.43" y="47.5" width="0.8" height="0.9" fill="#222"/><rect x="20.75" y="47.5" width="0.8" height="0.9" fill="#222"/><rect x="26.07" y="47.5" width="0.8" height="0.9" fill="#222"/><rect x="31.40" y="47.5" width="0.8" height="0.9" fill="#222"/><g font-size="6.8" fill="#222" text-anchor="middle"><text transform="translate(-32.10,55) scale(0.88,1)">1.0</text><text transform="translate(-0.15,55) scale(0.88,1)">2.7</text><text transform="translate(31.80,55) scale(0.88,1)">4.4</text></g></g><g transform="translate(182.3,267.3)"><text x="0" y="-50.1" font-size="7" text-anchor="middle" transform="scale(0.88,1)" fill="#1a1a1a" stroke="#1a1a1a" stroke-width="0.1">Beta 1 (12.0 - 15.0 Hz)</text><path d="M-36.5 -10 C-40.2 -9.5 -41.2 -4 -41.2 0 C-41.2 4 -40.2 9.5 -36.5 10 Z" fill="#f6cccc" stroke="#333" stroke-width="0.65"/><path d="M36.5 -10 C40.2 -9.5 41.2 -4 41.2 0 C41.2 4 40.2 9.5 36.5 10 Z" fill="#f6cccc" stroke="#333" stroke-width="0.65"/><path d="M-4 -39 C-3.8 -43 -2.5 -46.5 0 -46.5 C2.5 -46.5 3.8 -43 4 -39 Z" fill="#f6cccc" stroke="#333" stroke-width="0.65"/><clipPath id="c5"><ellipse rx="37.0" ry="40.0"/></clipPath><g clip-path="url(#c5)"><rect x="-38" y="-41" width="76" height="82" fill="#0000ff"/><path fill="#0050f0" d="M-16.9 -40.1 -18.1 -36.1 -19.7 -32.8 -20.7 -31.4 -26.6 -25.9 -28.2 -23.6 -29.4 -21.1 -29.7 -18.9 -28.2 -12.7 -28.2 -9.1 -29.4 -5.8 -31.9 -0.8 -32.2 0.8 -32.2 6.6 -32.9 9.4 -34.1 11.2 -37.1 14.2 -37.1 40.1 37.1 40.1 37.1 -40.1Z"/><path fill="#00a0f0" d="M-4.8 -40.1 -5.9 -34.9 -8.4 -30.4 -10.9 -28.1 -15.4 -26.1 -18.1 -24.4 -19.7 -22.9 -21.4 -20.4 -22.2 -16.7 -22.1 -9.7 -22.9 -7.2 -26.4 0.1 -28.8 9.9 -30.4 13.1 -37.1 21.4 -37.1 40.1 37.1 40.1 37.1 -40.1Z"/><path fill="#00ffff" d="M37.1 -40.1 5.1 -40.1 4.9 -32.8 4.2 -30.9 3.2 -29.9 -3.4 -26.9 -9.7 -23.1 -13.9 -21.2 -16.4 -19.2 -17.4 -16.7 -17.6 -12.2 -18.2 -8.9 -22.9 1.8 -25.6 12.6 -26.6 14.8 -30.2 19.4 -32.2 22.6 -36.4 31.3 -37.1 33.3 -37.1 40.1 37.1 40.1Z"/><path fill="#00f080" d="M37.1 -40.1 13.6 -40.1 11.9 -36.8 11.8 -32.8 11.1 -29.9 9.9 -27.6 8.2 -25.8 6.9 -25.1 0.8 -24.1 -2.4 -23.1 -7.2 -20.2 -10.9 -17.1 -12.4 -14.6 -13.6 -10.7 -18.2 -1.9 -19.9 2.1 -21.1 6.6 -21.8 13.9 -22.4 17.1 -23.8 19.9 -27.8 25.8 -29.6 29.8 -30.9 34.9 -31.4 40.1 37.1 40.1Z"/><path fill="#00e030" d="M37.1 -33.4 34.3 -33.8 30.1 -33.6 25.8 -32.8 19.6 -30.9 16.2 -29.1 11.4 -24.8 9.1 -23.1 5.8 -21.7 -0.8 -20.4 -3.8 -18.7 -6.7 -15.9 -8.2 -13.7 -10.2 -9.6 -13.2 -5.8 -15.2 -2.6 -17.9 3.8 -18.7 9.1 -18.6 12.8 -18.1 15.6 -18.1 19.2 -18.9 22.2 -22.2 29.3 -23.2 32.6 -23.6 36.9 -23.1 40.1 27.4 40.1 33.8 33.1 37.1 28.9Z"/><path fill="#30f000" d="M29.3 -23.1 27.3 -24.1 24.4 -24.9 22.2 -25.2 18.2 -25.1 16.1 -24.4 13.8 -23.2 7.8 -19.6 5.2 -18.7 0.4 -17.7 -2.1 -16.2 -4.8 -13.6 -8.1 -8.6 -12.6 -2.9 -14.7 1.1 -15.9 4.4 -16.4 7.2 -16.4 10.6 -14.9 17.1 -14.7 19.1 -15.6 30.8 -15.4 34.1 -14.9 36.3 -14.1 37.9 -12.1 40.1 15.4 40.1 19.4 37.8 22.4 35.3 27.6 29.4 30.6 25.3 33.4 19.9 37.1 11.2 37.1 -6.2 35.6 -8.9 34.9 -14.1 33.9 -17.7 32.1 -20.7Z"/><path fill="#a8f000" d="M22.1 -19.9 19.2 -21.1 15.6 -20.9 13.4 -19.9 7.9 -16.4 1.6 -14.6 -0.4 -13.6 -2.8 -11.7 -5.1 -9.2 -9.7 -3.6 -12.1 -0.1 -13.6 3.2 -14.2 5.8 -14.2 11.8 -12.7 17.2 -11.9 22.4 -10.9 26.3 -8.9 30.1 -7.4 31.6 -6.1 32.4 -3.9 33.3 4.9 35.3 9.4 35.4 12.9 34.8 16.1 33.4 19.2 31.3 22.4 28.1 25.9 23.4 27.3 20.8 28.4 17.4 29.1 14.2 29.3 10.2 28.3 6.1 25.2 0.6 24.8 -1.1 24.6 -4.9 25.4 -10.7 25.2 -15.4 23.8 -18.4Z"/><path fill="#ffff00" d="M16.9 -16.6 15.6 -16.7 10.6 -13.4 8.1 -12.2 1.9 -11.1 -0.9 -9.7 -2.8 -8.4 -6.6 -4.6 -9.1 -1.4 -11.1 1.9 -12.6 6.6 -12.6 10.8 -11.2 16.1 -9.4 21.4 -7.9 24.3 -5.9 26.4 -3.2 27.9 6.4 30.4 10.4 30.4 12.1 30.1 15.8 28.6 17.9 27.1 21.2 23.6 23.4 19.8 24.6 15.1 24.4 10.8 23.6 7.6 21.2 2.2 20.2 -0.9 19.6 -5.1 19.4 -12.1 19.1 -13.7 18.4 -15.2Z"/><path fill="#ffa800" d="M1.6 -7.8 -1.2 -6.6 -3.6 -4.9 -6.6 -1.8 -8.7 1.4 -9.9 3.8 -10.7 6.4 -10.9 9.9 -10.4 12.6 -7.7 19.4 -6.1 21.9 -3.8 23.9 -0.4 25.3 4.4 26.3 9.8 26.4 12.1 25.9 14.8 24.8 16.4 23.6 18.2 21.8 19.8 19.4 20.6 17.1 20.9 14.9 20.8 11.8 20.1 8.9 15.6 -2.2 14.4 -4.6 12.8 -6.6 11.6 -7.2 9.6 -7.8 5.4 -8.1Z"/><path fill="#ff7000" d="M-0.9 -4.1 -2.9 -2.8 -4.9 -0.8 -6.9 2.1 -8.7 6.2 -9.1 9.9 -8.1 13.6 -6.7 16.6 -5.2 18.9 -3.4 20.8 -1.4 21.9 0.2 22.4 4.9 22.9 8.4 22.8 11.2 22.1 13.1 21.2 14.6 20.2 16.2 18.4 17.1 16.2 17.2 13.4 16.8 10.6 15.8 7.6 12.9 1.6 11.2 -0.9 9.8 -2.4 7.6 -3.8 4.4 -4.8 1.1 -4.8Z"/><path fill="#ff0000" d="M-0.2 -1.6 -1.9 -0.6 -3.1 0.6 -4.8 2.9 -6.4 6.4 -6.7 7.8 -6.7 9.9 -5.7 13.1 -3.4 17.1 -1.8 18.6 -0.4 19.2 1.4 19.6 4.1 19.4 8.4 18.2 10.4 17.1 11.4 16.1 12.2 14.2 12.1 10.8 10.6 6.4 8.1 2.1 5.2 -0.6 2.4 -1.8Z"/></g><ellipse rx="37.0" ry="40.0" fill="none" stroke="#222" stroke-width="0.75"/><circle cx="-12.2" cy="-36.2" r="1.1" fill="#8c8cb4" stroke="#333" stroke-width="0.55"/><circle cx="12.2" cy="-36.2" r="1.1" fill="#8c8cb4" stroke="#333" stroke-width="0.55"/><circle cx="-31" cy="-19.0" r="1.1" fill="#8c8cb4" stroke="#333" stroke-width="0.55"/><circle cx="-15.5" cy="-17.7" r="1.1" fill="#8c8cb4" stroke="#333" stroke-width="0.55"/><circle cx="0" cy="-17.6" r="1.1" fill="#8c8cb4" stroke="#333" stroke-width="0.55"/><circle cx="15.5" cy="-17.7" r="1.1" fill="#8c8cb4" stroke="#333" stroke-width="0.55"/><circle cx="31" cy="-19.0" r="1.1" fill="#8c8cb4" stroke="#333" stroke-width="0.55"/><circle cx="-35.3" cy="0.3" r="1.1" fill="#8c8cb4" stroke="#333" stroke-width="0.55"/><circle cx="-17.9" cy="0.3" r="1.1" fill="#8c8cb4" stroke="#333" stroke-width="0.55"/><circle cx="0" cy="0.3" r="1.1" fill="#8c8cb4" stroke="#333" stroke-width="0.55"/><circle cx="17.9" cy="0.3" r="1.1" fill="#8c8cb4" stroke="#333" stroke-width="0.55"/><circle cx="35.3" cy="0.3" r="1.1" fill="#8c8cb4" stroke="#333" stroke-width="0.55"/><circle cx="-31" cy="18.8" r="1.1" fill="#8c8cb4" stroke="#333" stroke-width="0.55"/><circle cx="-15.5" cy="17.9" r="1.1" fill="#8c8cb4" stroke="#333" stroke-width="0.55"/><circle cx="0" cy="17.9" r="1.1" fill="#8c8cb4" stroke="#333" stroke-width="0.55"/><circle cx="15.5" cy="17.9" r="1.1" fill="#8c8cb4" stroke="#333" stroke-width="0.55"/><circle cx="31" cy="18.8" r="1.1" fill="#8c8cb4" stroke="#333" stroke-width="0.55"/><circle cx="-12.1" cy="36" r="1.1" fill="#8c8cb4" stroke="#333" stroke-width="0.55"/><circle cx="12.1" cy="36" r="1.1" fill="#8c8cb4" stroke="#333" stroke-width="0.55"/><rect x="-32.10" y="42.7" width="5.38" height="4.8" fill="#0000ff"/><rect x="-26.78" y="42.7" width="5.38" height="4.8" fill="#0050f0"/><rect x="-21.45" y="42.7" width="5.38" height="4.8" fill="#00a0f0"/><rect x="-16.12" y="42.7" width="5.38" height="4.8" fill="#00ffff"/><rect x="-10.80" y="42.7" width="5.38" height="4.8" fill="#00f080"/><rect x="-5.48" y="42.7" width="5.38" height="4.8" fill="#00e030"/><rect x="-0.15" y="42.7" width="5.38" height="4.8" fill="#30f000"/><rect x="5.17" y="42.7" width="5.38" height="4.8" fill="#a8f000"/><rect x="10.50" y="42.7" width="5.38" height="4.8" fill="#ffff00"/><rect x="15.83" y="42.7" width="5.38" height="4.8" fill="#ffa800"/><rect x="21.15" y="42.7" width="5.38" height="4.8" fill="#ff7000"/><rect x="26.47" y="42.7" width="5.38" height="4.8" fill="#ff0000"/><rect x="-32.1" y="42.7" width="63.9" height="4.8" fill="none" stroke="#222" stroke-width="0.5"/><rect x="-32.50" y="47.5" width="0.8" height="0.9" fill="#222"/><rect x="-27.18" y="47.5" width="0.8" height="0.9" fill="#222"/><rect x="-21.85" y="47.5" width="0.8" height="0.9" fill="#222"/><rect x="-16.52" y="47.5" width="0.8" height="0.9" fill="#222"/><rect x="-11.20" y="47.5" width="0.8" height="0.9" fill="#222"/><rect x="-5.88" y="47.5" width="0.8" height="0.9" fill="#222"/><rect x="-0.55" y="47.5" width="0.8" height="0.9" fill="#222"/><rect x="4.77" y="47.5" width="0.8" height="0.9" fill="#222"/><rect x="10.10" y="47.5" width="0.8" height="0.9" fill="#222"/><rect x="15.43" y="47.5" width="0.8" height="0.9" fill="#222"/><rect x="20.75" y="47.5" width="0.8" height="0.9" fill="#222"/><rect x="26.07" y="47.5" width="0.8" height="0.9" fill="#222"/><rect x="31.40" y="47.5" width="0.8" height="0.9" fill="#222"/><g font-size="6.8" fill="#222" text-anchor="middle"><text transform="translate(-32.10,55) scale(0.88,1)">3.6</text><text transform="translate(-0.15,55) scale(0.88,1)">7.7</text><text transform="translate(31.80,55) scale(0.88,1)">11.7</text></g></g><g transform="translate(278.6,267.3)"><text x="0" y="-50.1" font-size="7" text-anchor="middle" transform="scale(0.88,1)" fill="#1a1a1a" stroke="#1a1a1a" stroke-width="0.1">Beta 2 (15.0 - 18.0 Hz)</text><path d="M-36.5 -10 C-40.2 -9.5 -41.2 -4 -41.2 0 C-41.2 4 -40.2 9.5 -36.5 10 Z" fill="#f6cccc" stroke="#333" stroke-width="0.65"/><path d="M36.5 -10 C40.2 -9.5 41.2 -4 41.2 0 C41.2 4 40.2 9.5 36.5 10 Z" fill="#f6cccc" stroke="#333" stroke-width="0.65"/><path d="M-4 -39 C-3.8 -43 -2.5 -46.5 0 -46.5 C2.5 -46.5 3.8 -43 4 -39 Z" fill="#f6cccc" stroke="#333" stroke-width="0.65"/><clipPath id="c6"><ellipse rx="37.0" ry="40.0"/></clipPath><g clip-path="url(#c6)"><rect x="-38" y="-41" width="76" height="82" fill="#0000ff"/><path fill="#0050f0" d="M-36.9 -38.9 -37.1 -10.7 -33.6 -8.9 -32.2 -7.6 -31.6 -6.4 -30.9 -4.1 -29.7 3.1 -29.7 6.2 -30.6 8.4 -31.6 9.6 -34.2 11.1 -37.1 11.9 -37.1 40.1 34.3 40.1 35.8 35.3 36.3 29.3 35.9 25.3 34.3 16.4 34.1 12.9 34.8 8.9 37.1 4.4 37.1 -35.4 33.9 -38.8 32.1 -40.1 -34.9 -40.1Z"/><path fill="#00a0f0" d="M-34.4 -32.1 -37.1 -29.2 -37.1 -17.2 -34.9 -14.9 -30.7 -12.1 -28.8 -10.1 -27.9 -8.7 -26.8 -6.1 -25.9 -2.9 -25.4 4.1 -26.4 8.6 -28.2 11.6 -30.4 13.4 -34.2 15.4 -37.1 17.4 -37.1 40.1 28.6 40.1 29.9 38.1 31.3 35.1 31.9 32.4 32.3 29.3 31.9 24.8 30.3 16.8 30.3 9.8 31.6 4.6 33.6 -0.1 33.9 -6.1 36.1 -14.6 36.8 -19.6 36.8 -22.2 36.1 -26.6 34.9 -29.8 32.9 -32.9 30.6 -35.2 28.6 -36.6 26.8 -37.4 23.1 -38.4 12.6 -38.4 10.6 -38.9 8.4 -40.1 -20.4 -40.1 -29.2 -35.4Z"/><path fill="#00ffff" d="M27.8 -31.9 24.4 -33.8 20.9 -34.6 17.8 -34.8 12.8 -34.4 9.9 -34.8 7.8 -35.4 5.4 -36.6 0.9 -39.4 -0.8 -39.9 -4.6 -39.9 -10.4 -38.6 -17.7 -36.1 -22.9 -33.1 -25.4 -31.1 -29.6 -28.4 -31.9 -26.2 -32.9 -24.8 -33.6 -22.9 -33.8 -21.4 -33.4 -19.6 -32.6 -18.1 -27.8 -13.6 -25.4 -10.4 -22.2 -4.1 -21.6 -1.8 -21.4 0.2 -23.2 9.4 -24.8 13.1 -26.6 15.4 -28.6 16.9 -31.4 18.4 -32.8 19.8 -34.9 23.1 -36.1 25.8 -37.1 28.9 -37.1 40.1 20.2 40.1 23.4 38.4 25.9 36.1 27.9 32.6 28.8 28.4 28.6 24.9 27.4 19.2 26.9 14.2 27.4 3.6 28.9 -5.9 31.8 -15.4 32.4 -20.2 32.3 -23.4 31.6 -26.2 29.9 -29.6Z"/><path fill="#00f080" d="M24.2 -29.4 22.2 -30.4 18.9 -31.2 7.2 -31.8 1.6 -32.8 -3.2 -34.4 -8.6 -34.4 -14.2 -33.2 -18.9 -31.2 -22.2 -28.8 -26.8 -24.4 -28.1 -21.6 -28.1 -20.2 -27.6 -18.6 -20.2 -6.9 -18.9 -4.1 -18.4 -2.1 -18.4 0.4 -20.2 7.4 -21.8 15.6 -22.9 18.4 -26.1 23.9 -26.9 26.9 -27.1 30.3 -26.2 34.9 -24.8 38.3 -23.4 40.1 6.1 40.1 8.8 38.1 11.1 36.9 13.1 36.4 16.9 36.1 20.2 35.1 22.4 33.8 24.2 31.8 25.4 28.8 25.6 25.8 24.2 16.2 24.2 8.2 23.8 -0.2 24.4 -4.6 27.4 -13.6 28.4 -18.4 28.4 -21.7 27.8 -24.8 26.6 -27.1Z"/><path fill="#00e030" d="M18.8 -27.9 13.2 -28.8 0.2 -28.2 -6.4 -30.2 -11.1 -30.4 -13.7 -29.9 -17.7 -28.2 -21.6 -25.1 -23.4 -22.2 -23.8 -21.2 -23.8 -18.4 -23.2 -16.7 -21.4 -13.1 -17.6 -7.8 -16.6 -5.8 -16.1 -3.8 -16.2 0.4 -17.9 6.4 -18.4 9.4 -18.6 16.6 -20.1 23.9 -19.9 28.8 -19.2 31.1 -17.6 34.1 -15.4 36.3 -12.6 37.9 -9.9 38.8 -7.4 39.1 -3.8 38.9 -1.2 38.4 0.4 37.8 3.1 35.9 5.9 34.8 10.2 33.4 17.6 31.9 20.2 30.4 21.9 28.3 22.4 24.6 21.6 15.8 21.8 7.8 20.4 0.6 20.4 -2.6 21.1 -5.4 24.1 -13.6 24.8 -16.4 24.9 -20.1 24.2 -22.9 22.9 -25.2 20.9 -26.9Z"/><path fill="#30f000" d="M-16.1 -25.8 -18.2 -24.2 -19.6 -22.7 -20.6 -20.6 -20.7 -18.1 -19.4 -14.4 -14.6 -8.2 -13.6 -5.4 -13.9 -1.2 -16.1 6.4 -16.6 9.9 -16.6 13.2 -16.2 15.4 -16.6 24.1 -16.2 25.9 -15.1 28.8 -14.2 29.9 -11.9 31.9 -10.6 32.6 -7.9 33.3 -4.8 33.1 -0.2 31.6 4.8 31.6 8.6 31.1 12.9 30.1 16.1 28.8 17.4 27.8 18.4 26.4 19.2 23.8 19.1 15.6 19.6 12.2 19.6 7.1 18.9 3.8 17.8 0.4 17.6 -2.1 18.4 -6.8 20.4 -11.9 21.6 -16.1 21.6 -19.6 20.6 -22.2 18.4 -24.4 16.2 -25.4 13.6 -25.9 9.1 -25.9 2.8 -25.1 -0.2 -25.1 -6.4 -26.8 -8.4 -27.1 -11.6 -27.1 -14.1 -26.6Z"/><path fill="#a8f000" d="M-15.2 -22.6 -17.1 -20.9 -17.7 -19.6 -17.7 -17.1 -16.4 -14.6 -11.7 -9.7 -10.7 -7.9 -10.9 -4.6 -14.1 5.1 -14.9 10.9 -14.2 22.1 -12.9 25.8 -10.4 28.3 -7.2 29.4 -4.1 29.4 -0.8 28.8 7.2 28.8 11.1 27.9 13.4 26.9 15.6 24.9 16.6 22.6 16.6 16.2 17.8 10.9 17.6 6.1 15.6 -1.1 15.6 -5.9 16.2 -9.4 18.2 -14.7 18.6 -16.6 18.4 -18.7 17.9 -20.1 15.9 -22.1 12.4 -23.1 10.1 -23.1 3.1 -22.2 0.1 -22.2 -7.9 -23.7 -11.9 -23.7Z"/><path fill="#ffff00" d="M-11.1 -19.6 -12.9 -18.2 -13.1 -16.9 -12.2 -15.1 -8.6 -10.1 -8.1 -8.9 -7.9 -6.8 -9.1 -2.6 -12.2 4.6 -13.1 7.9 -13.1 14.2 -12.6 19.8 -11.9 22.1 -10.9 23.8 -9.6 25.1 -7.4 26.3 -5.2 26.8 5.8 26.6 10.6 25.4 12.6 24.3 14.2 21.9 14.6 20.2 14.4 16.2 16.1 10.1 15.9 5.9 13.8 -1.2 13.1 -6.9 13.2 -11.4 14.9 -16.2 14.8 -18.1 14.1 -18.7 12.2 -19.4 0.1 -19.2 -5.4 -19.9 -9.7 -19.9Z"/><path fill="#ffa800" d="M-3.1 -14.7 -4.9 -14.2 -5.7 -13.2 -5.1 -9.9 -5.4 -5.8 -6.7 -2.2 -10.6 4.9 -11.4 7.6 -11.6 12.2 -10.6 19.2 -9.6 21.2 -8.2 22.6 -6.9 23.4 -4.6 24.3 -1.8 24.8 1.9 24.8 7.1 23.9 9.4 23.1 10.8 22.2 12.2 20.4 12.6 16.2 14.4 10.1 14.6 7.9 14.2 5.6 12.2 0.1 9.4 -11.4 8.6 -13.2 6.6 -14.6 4.9 -14.9Z"/><path fill="#ff7000" d="M4.1 -9.1 1.6 -8.9 0.2 -8.2 -1.1 -7.1 -4.6 -0.9 -8.2 4.6 -9.2 6.6 -9.7 8.4 -9.6 13.2 -8.9 16.2 -7.9 18.6 -6.1 20.4 -4.1 21.4 -0.9 22.2 3.8 21.9 6.2 21.2 8.4 20.1 9.4 19.1 10.1 17.8 12.4 10.9 12.9 8.6 12.9 7.2 12.1 4.2 8.4 -4.2 6.4 -7.6 5.2 -8.6Z"/><path fill="#ff0000" d="M3.2 -3.4 1.8 -3.1 -0.1 -1.4 -5.7 5.6 -7.1 8.1 -7.4 11.4 -6.7 14.1 -5.9 15.6 -4.8 16.8 -2.4 17.9 0.4 18.4 3.2 18.4 5.6 17.6 8.1 14.9 10.6 9.4 10.6 6.4 8.6 2.1 5.6 -2.1 4.2 -3.1Z"/></g><ellipse rx="37.0" ry="40.0" fill="none" stroke="#222" stroke-width="0.75"/><circle cx="-12.2" cy="-36.2" r="1.1" fill="#8c8cb4" stroke="#333" stroke-width="0.55"/><circle cx="12.2" cy="-36.2" r="1.1" fill="#8c8cb4" stroke="#333" stroke-width="0.55"/><circle cx="-31" cy="-19.0" r="1.1" fill="#8c8cb4" stroke="#333" stroke-width="0.55"/><circle cx="-15.5" cy="-17.7" r="1.1" fill="#8c8cb4" stroke="#333" stroke-width="0.55"/><circle cx="0" cy="-17.6" r="1.1" fill="#8c8cb4" stroke="#333" stroke-width="0.55"/><circle cx="15.5" cy="-17.7" r="1.1" fill="#8c8cb4" stroke="#333" stroke-width="0.55"/><circle cx="31" cy="-19.0" r="1.1" fill="#8c8cb4" stroke="#333" stroke-width="0.55"/><circle cx="-35.3" cy="0.3" r="1.1" fill="#8c8cb4" stroke="#333" stroke-width="0.55"/><circle cx="-17.9" cy="0.3" r="1.1" fill="#8c8cb4" stroke="#333" stroke-width="0.55"/><circle cx="0" cy="0.3" r="1.1" fill="#8c8cb4" stroke="#333" stroke-width="0.55"/><circle cx="17.9" cy="0.3" r="1.1" fill="#8c8cb4" stroke="#333" stroke-width="0.55"/><circle cx="35.3" cy="0.3" r="1.1" fill="#8c8cb4" stroke="#333" stroke-width="0.55"/><circle cx="-31" cy="18.8" r="1.1" fill="#8c8cb4" stroke="#333" stroke-width="0.55"/><circle cx="-15.5" cy="17.9" r="1.1" fill="#8c8cb4" stroke="#333" stroke-width="0.55"/><circle cx="0" cy="17.9" r="1.1" fill="#8c8cb4" stroke="#333" stroke-width="0.55"/><circle cx="15.5" cy="17.9" r="1.1" fill="#8c8cb4" stroke="#333" stroke-width="0.55"/><circle cx="31" cy="18.8" r="1.1" fill="#8c8cb4" stroke="#333" stroke-width="0.55"/><circle cx="-12.1" cy="36" r="1.1" fill="#8c8cb4" stroke="#333" stroke-width="0.55"/><circle cx="12.1" cy="36" r="1.1" fill="#8c8cb4" stroke="#333" stroke-width="0.55"/><rect x="-32.10" y="42.7" width="5.38" height="4.8" fill="#0000ff"/><rect x="-26.78" y="42.7" width="5.38" height="4.8" fill="#0050f0"/><rect x="-21.45" y="42.7" width="5.38" height="4.8" fill="#00a0f0"/><rect x="-16.12" y="42.7" width="5.38" height="4.8" fill="#00ffff"/><rect x="-10.80" y="42.7" width="5.38" height="4.8" fill="#00f080"/><rect x="-5.48" y="42.7" width="5.38" height="4.8" fill="#00e030"/><rect x="-0.15" y="42.7" width="5.38" height="4.8" fill="#30f000"/><rect x="5.17" y="42.7" width="5.38" height="4.8" fill="#a8f000"/><rect x="10.50" y="42.7" width="5.38" height="4.8" fill="#ffff00"/><rect x="15.83" y="42.7" width="5.38" height="4.8" fill="#ffa800"/><rect x="21.15" y="42.7" width="5.38" height="4.8" fill="#ff7000"/><rect x="26.47" y="42.7" width="5.38" height="4.8" fill="#ff0000"/><rect x="-32.1" y="42.7" width="63.9" height="4.8" fill="none" stroke="#222" stroke-width="0.5"/><rect x="-32.50" y="47.5" width="0.8" height="0.9" fill="#222"/><rect x="-27.18" y="47.5" width="0.8" height="0.9" fill="#222"/><rect x="-21.85" y="47.5" width="0.8" height="0.9" fill="#222"/><rect x="-16.52" y="47.5" width="0.8" height="0.9" fill="#222"/><rect x="-11.20" y="47.5" width="0.8" height="0.9" fill="#222"/><rect x="-5.88" y="47.5" width="0.8" height="0.9" fill="#222"/><rect x="-0.55" y="47.5" width="0.8" height="0.9" fill="#222"/><rect x="4.77" y="47.5" width="0.8" height="0.9" fill="#222"/><rect x="10.10" y="47.5" width="0.8" height="0.9" fill="#222"/><rect x="15.43" y="47.5" width="0.8" height="0.9" fill="#222"/><rect x="20.75" y="47.5" width="0.8" height="0.9" fill="#222"/><rect x="26.07" y="47.5" width="0.8" height="0.9" fill="#222"/><rect x="31.40" y="47.5" width="0.8" height="0.9" fill="#222"/><g font-size="6.8" fill="#222" text-anchor="middle"><text transform="translate(-32.10,55) scale(0.88,1)">2.5</text><text transform="translate(-0.15,55) scale(0.88,1)">5.4</text><text transform="translate(31.80,55) scale(0.88,1)">8.3</text></g></g><g transform="translate(375.0,267.3)"><text x="0" y="-50.1" font-size="7" text-anchor="middle" transform="scale(0.88,1)" fill="#1a1a1a" stroke="#1a1a1a" stroke-width="0.1">Beta 3 (18.0 - 25.0 Hz)</text><path d="M-36.5 -10 C-40.2 -9.5 -41.2 -4 -41.2 0 C-41.2 4 -40.2 9.5 -36.5 10 Z" fill="#f6cccc" stroke="#333" stroke-width="0.65"/><path d="M36.5 -10 C40.2 -9.5 41.2 -4 41.2 0 C41.2 4 40.2 9.5 36.5 10 Z" fill="#f6cccc" stroke="#333" stroke-width="0.65"/><path d="M-4 -39 C-3.8 -43 -2.5 -46.5 0 -46.5 C2.5 -46.5 3.8 -43 4 -39 Z" fill="#f6cccc" stroke="#333" stroke-width="0.65"/><clipPath id="c7"><ellipse rx="37.0" ry="40.0"/></clipPath><g clip-path="url(#c7)"><rect x="-38" y="-41" width="76" height="82" fill="#0000ff"/><path fill="#0050f0" d="M-37.1 -40.1 -37.1 -9.6 -33.8 -6.1 -32.6 -3.9 -30.7 4.6 -31.1 7.6 -32.1 9.4 -34.6 11.9 -37.1 13.8 -37.1 40.1 37.1 40.1 37.1 -40.1Z"/><path fill="#00a0f0" d="M-37.1 -40.1 -37.1 -18.6 -34.9 -15.1 -31.1 -10.4 -28.8 -6.2 -26.4 1.8 -25.9 5.8 -26.2 9.1 -27.6 12.4 -28.4 13.6 -33.6 18.6 -35.9 21.9 -37.1 24.3 -37.1 40.1 27.8 40.1 29.8 37.1 31.3 33.9 32.4 30.1 32.9 26.8 32.9 22.2 32.1 17.9 30.3 13.6 29.9 12.2 29.9 9.8 30.3 8.6 31.6 6.4 33.4 4.8 37.1 2.2 37.1 -40.1Z"/><path fill="#00ffff" d="M-19.7 -40.1 -22.6 -36.4 -29.2 -29.2 -30.9 -26.2 -31.7 -22.9 -31.7 -20.7 -31.2 -18.7 -27.4 -11.9 -24.9 -6.8 -23.1 -1.8 -22.1 3.4 -21.9 11.2 -22.4 15.6 -23.4 18.2 -27.1 22.8 -28.2 24.9 -28.8 26.8 -28.8 29.8 -28.2 31.6 -26.6 34.4 -23.8 36.8 -20.2 38.3 -11.2 40.1 7.2 40.1 14.9 37.4 17.8 35.9 20.9 33.6 23.1 31.3 24.9 27.9 25.6 25.3 25.6 20.9 24.4 14.9 24.2 11.1 24.8 7.9 25.8 5.6 28.3 3.1 32.4 0.8 37.1 -2.6 37.1 -40.1Z"/><path fill="#00f080" d="M26.6 -36.6 24.2 -37.8 21.1 -38.6 17.6 -38.6 15.2 -38.1 12.1 -36.6 10.8 -34.9 8.2 -32.8 2.2 -32.1 -1.6 -30.6 -4.6 -28.2 -7.4 -25.4 -9.4 -24.1 -11.2 -23.9 -16.2 -25.6 -19.1 -25.8 -21.2 -25.1 -22.6 -24.2 -24.6 -21.9 -25.2 -19.7 -25.1 -16.6 -23.8 -12.4 -21.1 -6.4 -19.4 -1.1 -18.6 10.2 -17.9 13.9 -16.9 17.1 -15.9 23.6 -15.1 25.6 -13.7 27.4 -10.9 29.6 -6.4 31.1 -0.2 31.1 5.9 31.6 10.6 30.6 14.6 28.3 16.9 25.6 18.2 22.4 20.4 7.9 21.1 4.9 21.9 2.9 24.4 0.2 29.6 -1.4 32.8 -3.1 34.9 -5.1 36.1 -6.8 37.1 -8.9 37.1 -18.6 34.6 -25.9 32.1 -30.9 30.1 -33.6Z"/><path fill="#00e030" d="M23.9 -29.1 21.9 -29.9 19.1 -30.1 16.1 -29.2 10.4 -26.2 4.1 -26.9 0.8 -26.6 -2.8 -25.1 -8.4 -21.4 -10.2 -20.9 -16.7 -21.2 -18.2 -20.7 -19.7 -19.4 -20.4 -17.9 -20.6 -15.4 -20.1 -13.1 -17.7 -6.2 -17.1 -3.1 -16.2 8.4 -15.2 13.1 -12.2 21.4 -10.9 23.4 -8.1 25.8 -6.1 26.6 -3.2 27.1 4.8 27.3 8.2 26.4 10.6 25.1 12.4 23.2 14.2 19.9 16.8 11.9 18.4 1.9 19.8 -0.8 21.4 -2.4 23.4 -3.6 30.3 -5.1 32.3 -7.2 32.9 -9.4 32.9 -12.4 32.1 -15.4 27.8 -25.2 26.9 -26.4Z"/><path fill="#30f000" d="M21.8 -24.4 19.2 -25.4 16.4 -25.4 10.4 -23.7 4.1 -23.9 1.1 -23.6 -3.1 -21.9 -6.6 -19.6 -8.9 -18.4 -12.2 -17.4 -14.6 -17.1 -15.4 -16.4 -15.7 -15.6 -15.7 -13.2 -15.1 -9.4 -14.4 5.6 -13.7 10.1 -12.2 15.1 -10.2 19.4 -9.6 20.4 -6.9 22.9 -4.8 23.9 -2.2 24.4 3.9 24.4 6.8 23.6 8.4 22.6 11.1 19.6 12.6 16.6 14.1 12.2 14.9 8.6 15.9 1.2 16.9 -1.8 18.9 -4.9 21.9 -7.6 25.4 -9.6 26.4 -10.7 26.8 -11.7 26.6 -15.4 25.4 -19.4 23.6 -22.7Z"/><path fill="#a8f000" d="M18.9 -21.6 17.4 -22.2 14.8 -22.4 9.8 -21.4 2.4 -21.2 0.6 -20.9 -1.9 -19.9 -8.4 -15.4 -10.6 -13.1 -11.6 -10.4 -12.6 -4.9 -12.7 1.2 -12.2 7.6 -11.4 11.4 -9.2 16.8 -7.9 18.8 -5.2 21.1 -1.8 22.2 3.6 22.1 5.8 21.2 7.4 20.1 10.1 16.6 12.1 11.4 13.9 0.9 15.2 -3.9 17.4 -8.9 20.2 -12.4 21.4 -14.7 21.6 -17.2 21.2 -18.6 20.2 -20.4Z"/><path fill="#ffff00" d="M15.4 -19.6 13.1 -19.6 8.1 -18.7 3.1 -18.7 0.2 -18.2 -2.1 -16.9 -5.9 -13.7 -7.4 -12.1 -9.1 -9.1 -10.2 -5.6 -10.9 -0.9 -10.7 4.8 -10.1 9.1 -8.7 13.2 -7.1 16.4 -4.9 18.8 -3.2 19.8 -0.8 20.4 1.2 20.4 2.9 20.1 4.8 19.2 7.4 16.8 9.2 13.4 10.8 8.8 11.6 3.2 14.4 -10.2 17.4 -16.1 17.4 -17.4 16.9 -18.6Z"/><path fill="#ffa800" d="M9.1 -15.2 7.1 -15.6 3.2 -15.6 1.2 -15.1 -0.4 -14.2 -2.9 -12.6 -5.4 -10.2 -7.7 -6.2 -8.6 -3.8 -9.1 -0.9 -9.1 3.4 -8.1 9.4 -6.9 12.6 -5.2 15.4 -3.4 17.2 -1.6 18.2 1.2 18.4 4.1 17.1 6.1 14.9 8.4 9.9 10.8 -1.2 11.4 -11.6 11.2 -13.6 10.9 -14.2Z"/><path fill="#ff7000" d="M4.2 -11.6 2.4 -11.4 0.2 -10.7 -2.8 -9.1 -3.9 -7.9 -5.6 -5.4 -7.1 -1.4 -7.2 3.8 -5.7 9.9 -4.9 11.8 -3.1 14.4 -0.6 16.1 0.9 16.1 2.2 15.4 3.8 14.1 4.9 12.4 7.1 7.2 8.6 1.1 8.9 -3.2 8.1 -8.4 7.4 -9.7 6.2 -10.9Z"/><path fill="#ff0000" d="M2.6 -7.4 0.2 -7.2 -1.6 -5.9 -4.4 -1.8 -5.2 0.6 -5.1 3.6 -3.9 7.6 -2.6 10.1 -1.1 11.6 -0.2 11.9 1.4 11.6 3.6 9.1 5.1 5.8 6.6 0.9 6.6 -2.1 5.8 -4.8 3.9 -6.9Z"/></g><ellipse rx="37.0" ry="40.0" fill="none" stroke="#222" stroke-width="0.75"/><circle cx="-12.2" cy="-36.2" r="1.1" fill="#8c8cb4" stroke="#333" stroke-width="0.55"/><circle cx="12.2" cy="-36.2" r="1.1" fill="#8c8cb4" stroke="#333" stroke-width="0.55"/><circle cx="-31" cy="-19.0" r="1.1" fill="#8c8cb4" stroke="#333" stroke-width="0.55"/><circle cx="-15.5" cy="-17.7" r="1.1" fill="#8c8cb4" stroke="#333" stroke-width="0.55"/><circle cx="0" cy="-17.6" r="1.1" fill="#8c8cb4" stroke="#333" stroke-width="0.55"/><circle cx="15.5" cy="-17.7" r="1.1" fill="#8c8cb4" stroke="#333" stroke-width="0.55"/><circle cx="31" cy="-19.0" r="1.1" fill="#8c8cb4" stroke="#333" stroke-width="0.55"/><circle cx="-35.3" cy="0.3" r="1.1" fill="#8c8cb4" stroke="#333" stroke-width="0.55"/><circle cx="-17.9" cy="0.3" r="1.1" fill="#8c8cb4" stroke="#333" stroke-width="0.55"/><circle cx="0" cy="0.3" r="1.1" fill="#8c8cb4" stroke="#333" stroke-width="0.55"/><circle cx="17.9" cy="0.3" r="1.1" fill="#8c8cb4" stroke="#333" stroke-width="0.55"/><circle cx="35.3" cy="0.3" r="1.1" fill="#8c8cb4" stroke="#333" stroke-width="0.55"/><circle cx="-31" cy="18.8" r="1.1" fill="#8c8cb4" stroke="#333" stroke-width="0.55"/><circle cx="-15.5" cy="17.9" r="1.1" fill="#8c8cb4" stroke="#333" stroke-width="0.55"/><circle cx="0" cy="17.9" r="1.1" fill="#8c8cb4" stroke="#333" stroke-width="0.55"/><circle cx="15.5" cy="17.9" r="1.1" fill="#8c8cb4" stroke="#333" stroke-width="0.55"/><circle cx="31" cy="18.8" r="1.1" fill="#8c8cb4" stroke="#333" stroke-width="0.55"/><circle cx="-12.1" cy="36" r="1.1" fill="#8c8cb4" stroke="#333" stroke-width="0.55"/><circle cx="12.1" cy="36" r="1.1" fill="#8c8cb4" stroke="#333" stroke-width="0.55"/><rect x="-32.10" y="42.7" width="5.38" height="4.8" fill="#0000ff"/><rect x="-26.78" y="42.7" width="5.38" height="4.8" fill="#0050f0"/><rect x="-21.45" y="42.7" width="5.38" height="4.8" fill="#00a0f0"/><rect x="-16.12" y="42.7" width="5.38" height="4.8" fill="#00ffff"/><rect x="-10.80" y="42.7" width="5.38" height="4.8" fill="#00f080"/><rect x="-5.48" y="42.7" width="5.38" height="4.8" fill="#00e030"/><rect x="-0.15" y="42.7" width="5.38" height="4.8" fill="#30f000"/><rect x="5.17" y="42.7" width="5.38" height="4.8" fill="#a8f000"/><rect x="10.50" y="42.7" width="5.38" height="4.8" fill="#ffff00"/><rect x="15.83" y="42.7" width="5.38" height="4.8" fill="#ffa800"/><rect x="21.15" y="42.7" width="5.38" height="4.8" fill="#ff7000"/><rect x="26.47" y="42.7" width="5.38" height="4.8" fill="#ff0000"/><rect x="-32.1" y="42.7" width="63.9" height="4.8" fill="none" stroke="#222" stroke-width="0.5"/><rect x="-32.50" y="47.5" width="0.8" height="0.9" fill="#222"/><rect x="-27.18" y="47.5" width="0.8" height="0.9" fill="#222"/><rect x="-21.85" y="47.5" width="0.8" height="0.9" fill="#222"/><rect x="-16.52" y="47.5" width="0.8" height="0.9" fill="#222"/><rect x="-11.20" y="47.5" width="0.8" height="0.9" fill="#222"/><rect x="-5.88" y="47.5" width="0.8" height="0.9" fill="#222"/><rect x="-0.55" y="47.5" width="0.8" height="0.9" fill="#222"/><rect x="4.77" y="47.5" width="0.8" height="0.9" fill="#222"/><rect x="10.10" y="47.5" width="0.8" height="0.9" fill="#222"/><rect x="15.43" y="47.5" width="0.8" height="0.9" fill="#222"/><rect x="20.75" y="47.5" width="0.8" height="0.9" fill="#222"/><rect x="26.07" y="47.5" width="0.8" height="0.9" fill="#222"/><rect x="31.40" y="47.5" width="0.8" height="0.9" fill="#222"/><g font-size="6.8" fill="#222" text-anchor="middle"><text transform="translate(-32.10,55) scale(0.88,1)">3.0</text><text transform="translate(-0.15,55) scale(0.88,1)">8.5</text><text transform="translate(31.80,55) scale(0.88,1)">14.0</text></g></g></svg>
<div class="t" style="left:494.5px;top:79.32px;font-size:19.5px;line-height:19.5px;font-weight:bold;font-style:normal;transform:scaleX(0.9465)">Thomas Beck’s 2nd QEEG</div>
<div class="t" style="left:533.1px;top:106.12px;font-size:19.5px;line-height:19.5px;font-weight:bold;font-style:normal;transform:scaleX(0.9908)">January 26, 2018</div>
<div class="t" style="left:460.4px;top:132.63px;font-size:19.5px;line-height:19.5px;font-weight:normal;font-style:italic;transform:scaleX(1.0153)">These images are during healings</div>
<div class="t" style="left:539.4px;top:159.13px;font-size:19.5px;line-height:19.5px;font-weight:normal;font-style:italic;transform:scaleX(1.0197)">with eyes <b>open</b>.</div>
<div class="t" style="left:467.4px;top:212.33px;font-size:19.5px;line-height:19.5px;font-weight:normal;font-style:normal;transform:scaleX(1.0114)">A comparison of raw EEG traces</div>
<div class="t" style="left:471.5px;top:238.93px;font-size:19.5px;line-height:19.5px;font-weight:normal;font-style:normal;transform:scaleX(1.0400)">between baseline and during a</div>
<div class="t" style="left:492.7px;top:265.62px;font-size:19.5px;line-height:19.5px;font-weight:normal;font-style:normal;transform:scaleX(1.0355)">healing session with Alisa.</div>
<div class="t" style="left:469.7px;top:318.33px;font-size:19.5px;line-height:19.5px;font-weight:normal;font-style:normal;transform:scaleX(1.0649)">Note the high Alpha in parieto-</div>
<div class="t" style="left:468.5px;top:344.53px;font-size:19.5px;line-height:19.5px;font-weight:normal;font-style:normal;transform:scaleX(1.0465)">occipital (posterior in red) scalp</div>
<div class="t" style="left:494.5px;top:371.23px;font-size:19.5px;line-height:19.5px;font-weight:normal;font-style:normal;transform:scaleX(1.0423)">locations during baseline.</div>
<div class="t" style="left:482.0px;top:397.93px;font-size:19.5px;line-height:19.5px;font-weight:normal;font-style:normal;transform:scaleX(1.0445)">Appearance of “slow waves”</div>
<div class="t" style="left:503.8px;top:424.43px;font-size:19.5px;line-height:19.5px;font-weight:normal;font-style:normal;transform:scaleX(1.0217)">during healing suggests</div>
<div class="t" style="left:475.7px;top:451.03px;font-size:19.5px;line-height:19.5px;font-weight:normal;font-style:normal;transform:scaleX(1.0295)">entrainment to Thomas’s EEG</div>
<div class="t" style="left:494.9px;top:477.23px;font-size:19.5px;line-height:19.5px;font-weight:normal;font-style:normal;transform:scaleX(1.0005)">(pages 3 - 4, and 17 – 18).</div>
</body></html>
